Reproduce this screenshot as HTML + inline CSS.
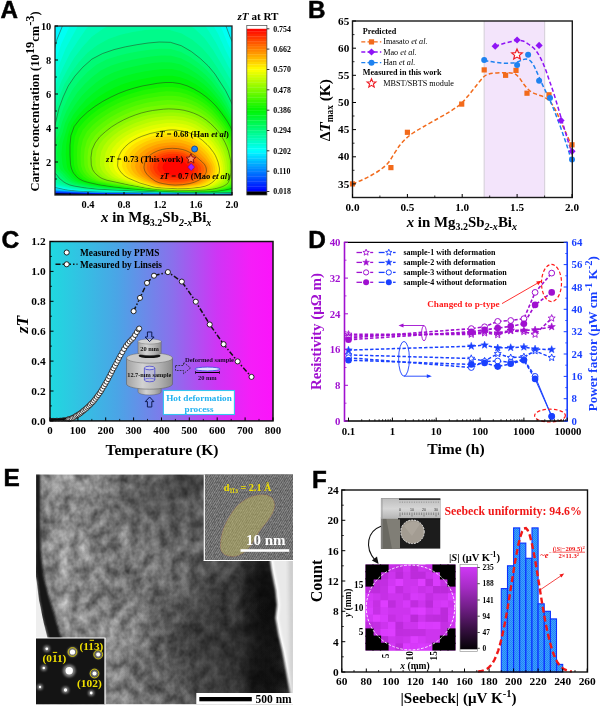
<!DOCTYPE html>
<html><head><meta charset="utf-8"><title>Figure</title>
<style>
html,body{margin:0;padding:0;background:#fff;}
body{width:600px;height:707px;overflow:hidden;font-family:"Liberation Serif",serif;}
svg{display:block;font-family:"Liberation Serif",serif;font-weight:bold;will-change:transform;}
</style></head><body>
<svg width="600" height="707" viewBox="0 0 600 707">
<rect width="600" height="707" fill="#fff"/>
<g id="pA">
<clipPath id="clA"><rect x="55" y="26" width="177" height="169"/></clipPath>
<g clip-path="url(#clA)">
<rect x="55" y="26" width="177" height="169" fill="#000"/>
<path d="M250 168L250 194.7L250 194.4L149.7 194.4L58.3 193.2L40 193.2L40 10L250 10Z" fill="#000bff"/>
<path d="M250 168L250 194.4L149.8 194.2L40 192.8L40 10L250 10Z" fill="#0020ff"/>
<path d="M250 168L250 194.3L250 194.1L150 194.1L40 192.4L40 10L250 10Z" fill="#0035ff"/>
<path d="M250 168L250 194.2L250 194L150.1 193.9L89.5 193.1L53 192.1L40 192L40 10L250 10Z" fill="#004aff"/>
<path d="M250 168L250 194L250 193.8L150.3 193.8L90.1 192.9L54.8 191.8L40 191.7L40 10L250 10Z" fill="#0060ff"/>
<path d="M250 168L250 193.9L250 193.7L150.4 193.6L90.7 192.7L56.5 191.4L40 191.3L40 10L250 10Z" fill="#0075ff"/>
<path d="M250 168L250 193.8L250 193.5L146.7 193.4L91.3 192.6L58.2 191.1L40 191L40 10L250 10Z" fill="#008aff"/>
<path d="M250 168L250 193.5L150.8 193.3L118.4 192.9L91.8 192.4L59.4 190.9L40 190.3L40 10L250 10Z" fill="#009fff"/>
<path d="M250 168L250 193.5L244 193.7L231.5 193.4L150.9 193.2L97.2 192.4L81.4 191.8L40.3 189.7L40 189.3L40 10L250 10Z" fill="#00b5ff"/>
<path d="M250 168L250 193.4L244.2 193.8L231.4 193.4L217.8 193.5L151.1 193.1L92.8 192.2L69 191L44.2 189L40 188.5L40 10L250 10Z" fill="#00caff"/>
<path d="M250 168L250 193.4L247.5 193.7L244.4 193.9L231.3 193.3L217.8 193.5L151.2 192.9L93.2 192L69.7 190.8L40 187.8L40 10L250 10Z" fill="#00dfff"/>
<path d="M250 168L250 193.4L247.6 193.7L244.7 194L231.2 193.3L217.7 193.5L177.9 193.1L93.7 191.9L82.8 191.5L70.5 190.6L64.1 190L51.3 187.9L40.8 187.1L40 185.4L40 17.3L44.6 10L230.6 10L239 14.4L247.2 30.3L250 43.7Z" fill="#00f4ff"/>
<path d="M250 168L250 193.3L244.9 194.1L231 193.2L217.7 193.4L176.1 192.9L107.2 192L83.3 191.4L71.3 190.5L65.2 189.7L54.6 187.4L45.2 186.5L41.9 184.6L40 182.4L40 111.5L40.4 98.4L44.1 84.9L52.6 56L57 39.4L63.7 22.9L70.2 10L213.2 10L222.9 17.8L230 36.9L236.7 50.7L243 62.4L247.9 74L250 85.5Z" fill="#00fff4" stroke="#2a3a20" stroke-width="0.6" stroke-opacity="0.85"/>
<path d="M250 168L250 191.9L249.2 192.9L244 193.7L230.8 193.1L217.5 193.3L176.1 192.8L108.3 191.7L85 190.9L73.4 190L67.5 189.3L57.2 187L48.7 186L45.5 184.1L43.3 182.1L41.8 179.8L40.4 177.5L40 175.2L40 125.3L40.3 112.8L43.5 100L47.2 86.9L51.5 73.4L61.3 44L68.4 29L75.6 11.9L86.4 10L211.1 10L220.5 25.8L227.5 43.1L234 56.1L240.1 67L244.8 78L248.2 88.9L250 99Z" fill="#00fedf"/>
<path d="M250 168L250 190.4L247.8 192.4L243.2 193.4L230.5 192.9L215.7 193.2L174.4 192.6L128.3 191.8L92 190.8L81.2 190.1L69.9 188.8L59.7 186.6L52.3 185.5L49.1 183.7L46.9 181.7L45.3 179.5L42.7 175L40.9 172.8L40 170.4L40 138.2L40.5 126.3L46.7 101.6L50.4 88.9L54.8 75.9L65.7 48.6L81 20.2L91.9 10L197 10L208.9 17.8L218 33.8L225 49.3L231.3 61.4L237.2 71.7L241.7 82.1L245.2 92.3L248 101.8L250 110.8Z" fill="#00fdca"/>
<path d="M250 168L250 189L246.4 191.9L242.3 193.1L239.6 193.3L230.2 192.8L210.2 193L176.1 192.5L139 191.7L93.4 190.4L83.1 189.7L72.2 188.4L62.3 186.2L55.8 185L52.8 183.3L50.5 181.3L48.8 179.2L46.1 174.9L41.8 170.4L40.5 168L40 165.6L40 138.7L43.8 127.3L49.8 103.2L53.6 90.9L58.2 78.5L63.8 66.1L70 53.2L77.8 41L86.4 28.5L97.4 18.3L110.3 10.9L124.6 10L182.5 10L195.6 16.6L206.8 28L215.6 41.9L222.5 55.5L228.6 66.7L234.2 76.4L238.7 86.2L242.1 95.7L245 104.6L249.3 121L250 128.6Z" fill="#00fcb5"/>
<path d="M250 168L250 186.3L249.6 187.4L248.7 188.6L245.1 191.4L241.5 192.8L239.2 193.1L229.9 192.7L202.7 192.8L160.8 192.1L103.9 190.3L90.1 189.7L79.9 188.6L69.6 186.9L59.3 184.5L56.4 182.8L54.2 180.9L52.3 178.9L49.5 174.7L44.4 170.3L43 168L41.4 163.3L40 151.1L41.9 139.3L47.1 128.3L52.9 104.8L56.8 92.9L61.5 81L67.5 69.4L74.3 57.8L82.5 47L91.8 36.8L103 28.7L115.4 22.9L128.7 19.4L142.2 17.2L155.7 16.5L169.1 17.5L182.1 21.3L194.2 28.2L204.6 38.2L213.1 49.9L231.3 81.1L235.6 90.2L242 107.4L246.6 122.8L248.5 130L250 136.9Z" fill="#00fb9f"/>
<path d="M250 168L250 183.6L249.8 184.8L247.3 188.1L243.7 191L240.6 192.4L238.8 193L232.2 192.6L199.2 192.7L160.9 191.9L131.9 191L101 189.8L91.8 189.2L82 188.2L72 186.5L62.8 184L60 182.4L55.8 178.6L52.9 174.5L47.1 170.3L45.5 168L43.8 163.3L41.7 151.4L44.5 139.8L50.4 129.3L56 106.4L60 94.9L64.8 83.5L71.2 72.8L78.6 62.5L87.2 53L97.2 45.2L108.5 39.1L120.5 34.8L132.8 32L145.2 30.1L157.5 29.3L169.8 29.9L181.7 33.5L192.7 39.9L202.4 48.3L210.7 57.9L217.5 67.9L228.4 85.7L232.5 94.3L239 110.2L243.8 124.6L247.7 138L249.2 144.5L250 151Z" fill="#00fa8a"/>
<path d="M250 168L250 179.6L248.3 184.5L245.8 187.7L244.6 188.7L242.3 190.5L238.4 192.8L231.9 192.4L202.5 192.6L174.5 192.1L140.1 191.1L97.9 189.2L84.2 187.7L74.4 186.1L69.9 185L66.4 183.5L63.7 181.9L59.3 178.3L56.3 174.3L49.7 170.2L48 168L46.2 163.4L44.1 151.7L47.2 140.4L53.7 130.3L59.1 107.9L63.2 96.9L68.2 86L74.9 76.1L82.9 67.1L91.9 59.1L102.6 53.5L114 49.6L125.5 46.8L136.9 44.7L148.1 43L159.3 42L170.4 42.3L181.3 45.7L191.3 51.5L200.3 58.5L208.2 65.9L215 74.1L225.5 90.4L229.5 98.4L236.1 112.9L243.2 132.8L246.9 145.3L248.3 151.5L249.3 157.8L250 164.2Z" fill="#00fa75" stroke="#2a3a20" stroke-width="0.6" stroke-opacity="0.85"/>
<path d="M248.7 168L248.8 174.3L248.3 179.3L246.6 184.1L244.2 187.3L243.1 188.2L240.8 190L236.9 192.2L230.9 192L208.4 192.5L174.5 192L140.5 190.8L99.7 188.7L86.5 187.2L77.1 185.6L72.8 184.5L69.3 183.1L66.5 181.6L62.2 178L59.2 174.2L53.4 170.2L51.9 168L50.3 163.6L48.4 152.2L51 141.2L56.6 131.2L59.3 120.4L62.7 109.7L67.2 99.4L72.6 89.4L79.6 80.3L87.6 72.1L96.4 64.8L106.6 59.6L117.4 56L128.3 53.3L139.1 51.3L149.7 49.7L160.2 48.8L170.8 49L181.1 52L190.6 57.2L199.2 63.6L206.9 70.3L213.4 77.8L223.9 93L227.9 100.5L234.6 114.3L241.9 133.5L245.5 145.7L246.9 151.9L247.9 158Z" fill="#00f960"/>
<path d="M247.2 168L247.1 174.1L246.5 179L244.9 183.7L242.6 186.8L241.6 187.8L239.3 189.5L235.3 191.6L229.9 191.6L209.3 192.3L176.2 192L140.8 190.6L101.5 188.2L88.9 186.7L79.9 185.1L75.7 184L72.2 182.7L69.4 181.2L67.1 179.6L65.1 177.8L62.1 174L57.1 170.1L55.8 168L54.3 163.7L52.7 152.7L54.8 142L59.4 132.1L62.3 121.6L66.2 111.5L71.3 101.9L77.1 92.7L84.3 84.5L92.2 77.1L100.8 70.5L110.6 65.8L120.8 62.4L131.1 59.9L141.2 57.9L151.2 56.4L161.2 55.5L171.1 55.7L180.8 58.3L189.9 63L198.1 68.6L205.5 74.7L211.9 81.6L222.3 95.6L226.3 102.6L233.1 115.7L235.8 122L240.5 134.2L242.5 140.2L244.1 146.2L245.5 152.2L246.4 158.2Z" fill="#00f84a"/>
<path d="M245.6 168L245.4 174L244.7 178.7L243.2 183.3L241 186.4L240.1 187.3L237.9 189L233.8 190.9L209.1 192.2L176.2 191.9L141.2 190.4L107 188.1L95.4 186.8L82.7 184.6L78.6 183.6L75.1 182.3L72.3 180.9L70 179.3L68 177.5L65 173.9L60.8 170L59.6 168L58.4 163.9L57 153.3L58.6 142.8L62.3 132.9L65.2 122.8L69.7 113.3L75.3 104.5L81.6 96.1L88.9 88.7L96.9 82.1L105.3 76.3L114.6 72L124.2 68.8L133.9 66.4L143.4 64.6L152.8 63.1L162.1 62.3L171.5 62.4L180.6 64.6L189.2 68.7L197 73.7L204.2 79.2L210.4 85.4L220.6 98.2L224.7 104.7L231.6 117.1L234.4 123.1L239.2 134.9L241.2 140.8L242.8 146.6L244.1 152.5L245 158.4Z" fill="#00f735"/>
<path d="M244 168L243.5 175L242.9 178.4L241.4 182.9L240.2 184.9L238.6 186.8L236.4 188.4L232.2 190.3L219.3 191.5L211.2 192L195.8 192.1L176.2 191.9L161.3 191.3L134.4 189.7L111.8 187.9L101.4 186.9L89.6 185L81.5 183.1L78 181.9L75.1 180.5L72.8 179L70.9 177.3L64.5 170L63.5 168L62.9 166L62.4 164L61.4 153.8L62.4 143.6L68.2 124.1L73.2 115.1L79.4 107L86.1 99.5L93.6 92.9L101.5 87.1L109.8 82L118.6 78.1L127.6 75.2L136.6 72.9L145.6 71.2L154.3 69.9L163.1 69L171.8 69.1L180.4 71L188.5 74.4L196 78.7L202.8 83.6L208.9 89.1L214.2 95L219 100.7L223.1 106.8L230.1 118.4L233 124.2L237.8 135.6L239.8 141.3L241.4 147.1L242.6 152.8L243.5 158.7L244 164.5Z" fill="#00f620"/>
<path d="M242.4 168L241.9 173.7L241.1 178.2L239.7 182.5L238.6 184.5L237 186.4L234.9 187.9L232.2 189.2L228.9 190L218.9 191.2L208.7 191.9L188.7 192L172.8 191.7L159 191.1L131.5 189.2L116 187.8L103.4 186.4L96 185.2L88.2 183.7L80.9 181.5L78 180.2L75.7 178.7L73.8 177L72.2 175.3L68.2 169.9L67.4 168L66.5 164.1L65.7 154.3L66.2 144.4L68 134.7L71.2 125.3L76.8 116.9L83.4 109.5L90.6 102.9L98.2 97.1L106.2 92.1L114.3 87.7L122.6 84.3L131.1 81.6L139.4 79.5L155.9 76.6L164 75.8L172.2 75.8L180.2 77.3L187.8 80.1L194.9 83.8L201.4 88.1L207.4 92.9L212.6 98.1L217.4 103.3L221.5 108.9L228.7 119.8L231.6 125.3L236.5 136.4L238.5 141.9L240.1 147.5L241.2 153.2L242.1 158.9L242.5 164.6Z" fill="#00f50b"/>
<path d="M240.9 168L240.1 174.6L239 178.9L238 182.1L236.9 184.1L235.5 185.9L233.4 187.4L230.7 188.6L227.7 189.5L218.4 190.9L210.7 191.6L195.6 191.8L179.5 191.8L165.6 191.3L126.4 188.4L111.6 186.7L98.4 184.7L87.3 182.2L83.8 181.1L80.9 179.8L78.5 178.4L76.7 176.8L73.8 173.4L72.7 171.6L71.3 168L70.5 164.3L70 154.9L70 145.3L70.9 135.6L74.2 126.5L80.3 118.7L87.5 112L95.1 106.3L102.9 101.3L110.9 97.1L118.8 93.4L126.6 90.4L134.5 88L142.2 86L157.4 83.3L165 82.5L172.5 82.5L179.9 83.6L187.1 85.8L193.8 88.9L200.1 92.5L205.8 96.6L211.1 101.1L215.8 105.9L220 111L223.7 116.1L227.2 121.2L230.2 126.4L235.2 137.1L237.2 142.5L238.7 147.9L239.8 153.5L240.6 159.1L241 164.6Z" fill="#0bf500" stroke="#2a3a20" stroke-width="0.6" stroke-opacity="0.85"/>
<path d="M239.2 168L238.5 174.5L237.6 178.7L236 182.7L234.2 185.5L232.1 187L229.5 188.2L226.6 189.1L222.1 190L216.4 190.7L208.1 191.4L190.6 191.6L176.2 191.5L161.6 190.9L142.7 189.4L127.5 188L113.4 186.2L100.8 184.2L90.1 181.8L86.9 180.7L84.1 179.4L81.8 178L80.1 176.5L77.2 173.2L76.2 171.5L74.8 168L74 164.4L73.5 155.3L73.7 146L74.9 136.8L78.5 128.2L84.5 120.9L91.5 114.5L98.8 109.1L106.3 104.4L114 100.4L121.5 97L129.1 94.2L136.6 91.9L143.9 90.1L158.4 87.6L165.6 86.9L172.8 86.9L179.8 87.9L186.6 89.9L193 92.6L199 96L204.6 99.7L209.7 103.9L214.3 108.3L218.4 113.1L222.1 117.9L225.5 122.7L228.5 127.7L233.5 138L235.5 143.2L237 148.5L238.1 153.9L239 159.3L239.3 164.7Z" fill="#20f600"/>
<path d="M237.6 168L237.1 173.3L236.3 177.4L235.1 181.4L233.6 184.2L232.8 185.1L230.9 186.6L228.4 187.7L225.6 188.6L221.3 189.6L213.3 190.7L206.6 191.1L190.5 191.4L176.2 191.3L165.8 190.9L154.1 190.1L126.7 187.3L109.6 184.8L96.3 182.2L89.9 180.2L87.3 179L85.2 177.7L83.4 176.2L80.7 173L78.8 169.7L77.8 166.3L77.4 164.5L77 155.7L77.3 146.8L79 138L82.7 129.9L88.7 123L95.4 117L102.5 111.9L109.8 107.5L117.1 103.8L124.3 100.6L131.5 98L138.6 95.9L145.7 94.2L159.4 91.9L166.2 91.3L173 91.4L179.6 92.3L186.1 94L192.2 96.4L198 99.4L203.3 102.8L208.3 106.6L212.8 110.7L216.8 115.2L223.9 124.3L226.9 129L231.8 138.9L233.8 143.9L235.3 149.1L236.4 154.3L237.3 159.5L237.7 164.8Z" fill="#35f700"/>
<path d="M235.9 168L235.5 173.1L234.8 177.2L233.6 181.1L232.2 183.8L231.5 184.7L229.7 186.1L227.3 187.3L224.6 188.2L220.5 189.2L212.8 190.3L206.2 190.8L190.4 191.2L177.8 191.1L157.1 190.1L144.7 189L133.1 187.6L114.4 184.8L99 181.7L93 179.8L90.5 178.6L88.5 177.3L86.8 175.9L84.1 172.9L82.3 169.7L81.2 166.3L80.9 164.6L80.5 156.2L81 147.6L83 139.3L87 131.6L92.9 125.1L99.4 119.5L106.3 114.7L113.2 110.6L120.2 107.1L127.1 104.2L134 101.7L140.7 99.8L147.4 98.2L160.4 96.2L166.8 95.7L173.2 95.8L179.5 96.6L185.6 98.1L191.4 100.2L196.9 102.8L202.1 105.9L206.9 109.4L211.3 113.2L215.2 117.2L218.9 121.5L222.2 125.8L225.2 130.3L230.1 139.8L232 144.6L233.6 149.6L234.8 154.7L235.6 159.8L236 164.9Z" fill="#4af800"/>
<path d="M234.3 168L234 173L233.4 176.9L232.2 180.7L230.8 183.4L229.4 185L226.2 186.9L223.6 187.8L219.7 188.8L213.4 189.9L206.8 190.5L194.9 190.9L182.7 190.9L169.6 190.6L159.7 190.1L149.8 189.2L140.7 188.1L121.1 185.1L104.9 182L98.7 180.4L96 179.4L91.8 177L88.8 174.2L86.5 171.2L85.7 169.6L84.7 166.4L84.3 164.8L84 156.6L84.7 148.4L87 140.5L91.2 133.3L97.1 127.3L103.4 122L110 117.5L116.7 113.7L123.4 110.5L129.9 107.7L136.4 105.5L142.8 103.7L149.1 102.3L161.4 100.5L167.5 100.1L173.4 100.2L179.3 100.9L185.1 102.2L190.6 104L195.9 106.3L200.8 109L205.5 112.1L209.8 115.6L213.7 119.3L217.3 123.3L220.6 127.4L223.5 131.7L228.4 140.7L230.3 145.4L231.9 150.2L233.1 155.1L233.9 160L234.3 165Z" fill="#60f900"/>
<path d="M232.7 168L232.4 172.8L231.9 176.7L230.8 180.4L230 182.2L228.8 183.8L227.2 185.3L225 186.4L221.4 187.8L216.4 188.9L210.6 189.8L197.3 190.6L177.8 190.7L168 190.4L157.4 189.7L145.6 188.4L124.8 185L107.5 181.5L101.6 179.9L99.1 179L96.9 177.8L93.6 175.3L91 172.5L90 171L88.6 168L87.8 164.9L87.5 157L88.4 149.2L91.1 141.7L95.5 135.1L101.3 129.4L107.4 124.5L113.7 120.3L120.1 116.8L126.5 113.8L132.7 111.3L138.8 109.2L144.9 107.6L150.9 106.4L162.4 104.9L168.1 104.5L173.7 104.7L179.2 105.2L184.6 106.2L189.8 107.8L194.8 109.7L199.6 112.1L204.1 114.9L208.2 118L212.1 121.4L215.6 125.1L218.9 128.9L221.8 133L224.4 137.2L226.7 141.6L228.6 146.1L230.2 150.7L231.4 155.5L232.2 160.2L232.7 165.1Z" fill="#75fa00"/>
<path d="M231 168L230.9 172.7L230.4 176.5L229.3 180.1L228.1 182.7L226.8 184.2L224.9 185.4L222.8 186.5L219.3 187.7L214.5 188.8L209 189.6L204.2 190L194.5 190.4L174.6 190.4L157.6 189.5L146 188.1L128.1 184.8L107.1 180.3L102.1 178.5L100.1 177.4L97 175L94.4 172.3L92.6 169.5L91.3 165L91 157.4L92 149.9L95.1 143L99.7 136.8L105.5 131.6L111.4 127L117.5 123.2L123.6 119.9L129.6 117.2L135.5 114.9L141.3 113L147 111.6L152.6 110.5L163.4 109.2L168.7 108.9L173.9 109.1L179 109.5L184.1 110.3L189 111.6L193.8 113.2L198.3 115.2L202.7 117.6L206.7 120.4L210.5 123.5L214 126.9L217.3 130.5L220.2 134.3L222.7 138.3L225 142.5L226.9 146.8L228.5 151.3L230.6 160.5L231 165.2Z" fill="#8afa00" stroke="#2a3a20" stroke-width="0.6" stroke-opacity="0.85"/>
<path d="M229.1 168L228.9 172.5L228.4 176.1L227.3 179.6L226.1 182.1L224.8 183.5L222.1 185.3L216.7 187.4L211.3 188.6L206.3 189.3L194.2 190L177.8 190.2L157.9 189.2L146.6 187.7L131.2 184.7L112.9 180.5L107.9 178.9L105.8 178L104 177L101.1 174.6L98.7 172.1L97 169.4L95.6 165.2L95.5 158L96.5 150.9L99.5 144.3L103.9 138.5L109.4 133.6L115 129.3L120.8 125.7L126.6 122.6L132.3 120.1L143.4 116.3L148.8 114.9L154 113.9L164.2 112.7L169.2 112.4L174.1 112.6L178.9 113L183.7 113.7L188.3 114.9L192.8 116.4L197.1 118.2L201.2 120.5L205.1 123.1L208.7 125.9L212.1 129.1L215.2 132.4L218 136L220.5 139.8L224.7 147.8L226.3 152L227.5 156.3L228.5 160.8L229 165.3Z" fill="#9ffb00"/>
<path d="M227.2 168L227 172.4L226.6 175L225.6 178.3L224.5 180.7L222.8 182.9L221.2 184.1L218.4 185.6L215.4 186.7L210.3 188L205.7 188.8L193.9 189.6L177.8 189.9L160.5 189.1L151.3 188.1L135.3 184.9L115.8 179.9L111.3 178.4L109.4 177.5L107.8 176.5L105.2 174.3L103 171.9L101.3 169.3L100 165.3L100 158.5L101.1 151.9L103.9 145.7L108.1 140.2L113.3 135.5L118.6 131.5L124.1 128.2L129.7 125.4L135.1 123L145.5 119.5L150.6 118.3L155.5 117.3L165 116.2L169.7 115.9L174.3 116.1L178.8 116.4L183.2 117.1L187.6 118.2L191.8 119.5L195.9 121.3L199.7 123.4L203.4 125.7L206.9 128.4L210.1 131.3L213.1 134.4L215.8 137.7L218.3 141.2L222.5 148.7L224.1 152.7L225.4 156.8L226.4 161.1Z" fill="#b5fc00"/>
<path d="M225.2 168L225.1 172.2L224.5 175.5L223.3 178.7L222 180.9L220.8 182.2L218.5 183.9L215.8 185.3L212.1 186.7L207.6 187.9L203.3 188.5L189.4 189.5L177.8 189.6L160.7 188.8L151.7 187.8L136.4 184.4L118.7 179.3L114.8 177.9L113.1 177L111.6 176L109.2 173.9L107.2 171.7L105.7 169.2L104.4 165.5L104.5 159.1L105.6 152.8L108.3 147L112.3 141.9L117.1 137.5L122.2 133.8L127.5 130.7L132.7 128.1L137.8 126L147.6 122.8L152.3 121.6L157 120.8L165.8 119.6L170.2 119.4L174.5 119.5L182.8 120.5L186.9 121.5L190.8 122.7L194.7 124.3L198.3 126.2L201.8 128.4L205 130.8L208.1 133.5L213.6 139.4L218.3 146.1L220.3 149.6L221.9 153.4L223.3 157.3L224.3 161.4Z" fill="#cafd00"/>
<path d="M223.3 168L223.2 172L222.7 174.4L221.3 178.2L219.9 180.3L218.1 182.1L215.9 183.7L212.6 185.4L209.2 186.6L206.7 187.3L201.9 188.2L187.4 189.2L177.7 189.3L161 188.5L152.8 187.6L139.9 184.5L123.4 179.4L118.2 177.3L115.5 175.6L113.3 173.6L111.5 171.4L110.1 169.2L108.8 165.6L108.9 159.6L110.1 153.8L112.7 148.3L116.5 143.6L121 139.5L125.8 136L130.8 133.2L135.7 130.8L140.5 128.9L149.7 126L154.1 125L158.4 124.2L166.6 123.1L170.7 122.9L174.6 123L182.4 124L186.2 124.8L189.9 125.9L193.4 127.4L200.1 131L203.2 133.2L206.1 135.7L211.4 141.1L213.8 144.1L218.1 150.6L219.8 154.1L221.1 157.8L222.2 161.6Z" fill="#dffe00"/>
<path d="M221.3 168L221.4 170.3L221 173.4L220 176.4L218.4 179.1L216.1 181.5L213.5 183.5L211.3 184.7L207.4 186.3L203.6 187.3L200.6 187.8L185.5 189L177.7 189L161.2 188.2L153.2 187.2L140.9 184.1L126 178.8L121.7 176.8L119.3 175.1L117.4 173.2L115.7 171.2L114.4 169.1L113.2 165.8L113.4 160.2L114.6 154.7L117.1 149.7L120.7 145.2L124.9 141.5L129.5 138.3L134.1 135.7L138.7 133.6L143.3 131.8L147.6 130.4L155.9 128.4L167.4 126.6L174.8 126.5L182 127.4L185.5 128.1L192.2 130.4L198.5 133.7L204.1 137.9L209.2 142.8L211.6 145.5L215.8 151.5L217.6 154.8L219 158.3L220.1 161.9Z" fill="#f4ff00"/>
<path d="M219.4 168L219.5 170.2L219.1 173.2L217.3 177.3L215.8 179.1L213 181.8L211.2 183.2L208.6 184.8L205.1 186.2L200 187.3L187 188.6L177.7 188.8L161.4 187.9L156.8 187.5L153 186.8L139.9 183L128.6 178.3L125.1 176.2L122.3 173.8L120 171L118.3 168L117.6 165.9L117.9 160.7L119.1 155.7L121.5 151L124.9 146.9L128.8 143.4L133.1 140.5L137.4 138.2L141.8 136.3L150.1 133.5L161.3 131.1L168.3 130.1L171.6 129.9L175 130L181.6 130.8L187.9 132.3L193.9 134.8L196.8 136.3L202.2 140.1L207 144.5L209.4 147L213.6 152.5L215.4 155.5L216.8 158.8L218.1 162.2Z" fill="#fff400" stroke="#2a3a20" stroke-width="0.6" stroke-opacity="0.85"/>
<path d="M217.2 168L217.3 170.1L217.1 172.2L216.5 174.3L215.3 176.8L213.9 178.6L211.2 181.1L209.5 182.5L207 184L203.7 185.4L201.7 186L196.6 186.9L186.7 187.9L177.7 188.1L165.7 187.5L157.5 186.8L152.6 185.7L141.8 182.2L131.6 177.6L128.6 175.7L126.1 173.4L124 170.8L122.6 168L122 166.1L122.3 161.3L123.5 156.6L125.7 152.3L128.8 148.5L132.4 145.3L136.4 142.6L140.4 140.4L144.5 138.7L152.1 136.2L162.5 134L169 133.2L172.1 133L175.2 133.1L181.2 133.8L187 135.2L192.6 137.4L195.3 138.8L200.2 142.2L207 148.5L211.1 153.5L212.9 156.3L215.8 162.5Z" fill="#ffdf00"/>
<path d="M215 168L215.2 170L215 172L214.4 173.9L213.2 176.4L211.9 178L209.5 180.5L205.5 183.1L201.2 184.9L195.7 186.1L186.4 187.2L177.7 187.5L167.7 187L158.3 186.1L153 184.8L143.7 181.5L134.7 177L132 175.1L129.9 173L128.1 170.6L126.9 168L126.4 166.2L126.7 161.8L127.9 157.6L129.9 153.6L132.7 150.1L136.1 147.1L139.7 144.7L143.4 142.7L147.1 141.1L154.2 138.8L163.8 136.9L172.5 136.1L175.3 136.1L180.8 136.8L186.2 138L191.3 140L193.7 141.3L198.3 144.3L204.7 150L208.6 154.6L212 159.9L213.5 162.9L214.6 166Z" fill="#ffca00"/>
<path d="M212.8 168L213 169.9L212.8 171.8L212.3 173.6L211.2 175.9L210 177.5L207.7 179.8L206.2 181L203.4 182.6L199.4 184.2L192.9 185.6L183.1 186.7L175 186.9L168 186.4L159 185.4L154 184.1L146.3 181L137.8 176.3L135.5 174.6L133.7 172.6L132.2 170.3L131.1 168L130.8 166.4L131.1 162.4L132.2 158.5L134.1 154.9L136.7 151.7L139.7 149L143 146.8L146.4 145L149.8 143.5L156.3 141.5L165 139.8L172.9 139.1L180.5 139.8L185.3 140.9L189.9 142.6L194.3 145L196.4 146.5L202.4 151.5L206.2 155.6L209.6 160.5L211.2 163.2L212.4 166.1Z" fill="#ffb500"/>
<path d="M210.6 168L210.8 169.8L210.7 171.5L210.2 173.3L209.1 175.4L207.6 177.4L205.9 179.1L201.9 181.8L199.8 182.8L196.6 183.9L190.4 185.1L182.9 186.1L175.1 186.3L168.3 185.8L159.7 184.7L155 183.4L148.7 180.6L141.6 176.2L139 174L137.5 172.2L136.2 170.1L135.4 168L135.2 166.5L135.6 162.9L136.6 159.4L138.3 156.2L140.6 153.3L143.4 150.9L146.4 148.8L152.5 145.9L158.3 144.1L166.2 142.7L173.4 142.2L180.1 142.8L184.4 143.8L188.6 145.2L194.5 148.6L200.1 153L205.4 158.8L208.9 163.5L210.2 166.3Z" fill="#ff9f00"/>
<path d="M208.4 168L208.6 171.3L208.2 172.9L207.1 175L205.7 176.8L204.1 178.4L200.4 181L195.1 183.2L189.8 184.4L182.7 185.4L175.1 185.7L168.6 185.2L160.5 184L156 182.7L152 180.7L147.7 178.1L145 176L142.9 174L140.6 170.5L139.7 168L139.6 166.7L140 163.5L140.9 160.3L142.5 157.4L144.6 154.9L147 152.7L149.7 150.9L155.2 148.3L160.4 146.7L167.5 145.6L173.8 145.2L179.7 145.8L183.5 146.6L187.3 147.9L192.6 150.7L197.7 154.5L204.8 161.6L206.7 163.8L207.9 166.4Z" fill="#ff8a00"/>
<path d="M206.2 168L206.5 171.1L206.1 172.6L205.4 174L203.1 177L201.1 178.7L198.9 180.2L194.1 182.3L189.2 183.7L182.4 184.7L175.2 185.1L168.9 184.6L162.9 183.6L158.9 182.7L155.2 181.1L150.3 177.7L147 174.4L145.3 171.9L144.6 170.3L144 168L144 166.8L144.4 164L145.3 161.3L146.7 158.7L148.5 156.5L150.7 154.6L153 153L157.8 150.7L162.4 149.4L166.7 148.6L172.4 148.3L177.7 148.6L182.7 149.5L185.9 150.5L190.6 152.8L195.4 156L202.4 162.1L204.4 164.2L205.7 166.5Z" fill="#ff7500" stroke="#2a3a20" stroke-width="0.6" stroke-opacity="0.85"/>
<path d="M203.8 168L204 170.8L203 173.5L200.9 176.2L199.1 177.8L197.1 179.1L192.7 181.1L188.2 182.3L182 183.3L175.4 183.6L169.6 183.2L164.1 182.3L160.4 181.4L157 180L152.5 176.9L149.5 173.8L147.3 170.1L146.8 168L146.8 166.9L147.2 164.3L148 161.8L149.2 159.5L150.9 157.5L152.9 155.7L155 154.3L159.4 152.2L163.7 150.9L167.6 150.3L172.8 149.9L177.6 150.2L182.2 151.1L185.2 152L189.5 154.1L193.9 157L200.3 162.6L202.1 164.5L203.3 166.6Z" fill="#ff5f00"/>
<path d="M201 168L201.2 170.5L200.3 173L198.5 175.4L195 178L191.1 179.8L187.1 180.9L181.5 181.8L175.5 182L170.3 181.7L165.4 180.8L162.1 180.1L159.1 178.8L155 176L152.3 173.3L150.3 169.9L149.9 168L149.8 167.1L150.2 164.7L150.9 162.5L152.1 160.4L153.6 158.5L155.3 157L157.3 155.7L161.2 153.8L165 152.7L168.5 152.1L173.3 151.8L177.6 152L181.7 152.8L184.3 153.6L188.2 155.5L192.2 158.2L197.9 163.2L199.5 164.8L200.6 166.8Z" fill="#ff4900"/>
<path d="M198 168L198.2 170.2L197.4 172.3L195.8 174.5L192.7 176.7L189.3 178.3L185.8 179.2L180.9 180L175.7 180.2L171.2 179.9L166.9 179.2L164 178.5L161.4 177.4L157.8 175L155.4 172.6L153.7 169.6L153.3 167.2L153.6 165.1L154.3 163.2L155.2 161.3L156.5 159.7L159.8 157.2L163.2 155.6L166.6 154.6L169.6 154.1L173.7 153.8L177.5 154.1L181.1 154.7L183.4 155.4L186.8 157.1L190.2 159.4L195.2 163.8L196.6 165.2L197.6 166.9Z" fill="#ff3200"/>
<path d="M194.4 168L194.5 169.8L193.9 171.6L192.5 173.3L190 175.2L187.2 176.5L184.3 177.3L180.2 178L175.9 178.1L172.2 177.9L168.6 177.3L166.2 176.7L164 175.8L161.1 173.8L159.1 171.8L157.7 169.3L157.4 167.3L158.2 164L159 162.5L160.1 161.2L162.7 159.1L165.6 157.7L168.3 156.9L170.9 156.5L174.3 156.3L177.4 156.5L180.4 157L182.3 157.6L185.1 159L187.9 160.9L192.1 164.5L193.3 165.7Z" fill="#ff1c00"/>
<path d="M189.8 168L189.9 169.4L189.4 170.6L188.4 171.9L186.6 173.3L184.5 174.3L182.4 174.9L179.4 175.3L176.2 175.5L170.8 174.8L169.1 174.4L167.5 173.7L165.3 172.3L163.9 170.8L162.8 169L162.5 167.5L163.1 165.1L163.7 163.9L164.5 163L166.5 161.4L168.6 160.4L170.6 159.8L175 159.4L179.5 159.9L180.9 160.3L183 161.4L185.1 162.8L188.1 165.4L189 166.3Z" fill="#ff0600"/>
</g>
<rect x="55" y="26" width="177" height="169" fill="none" stroke="#222" stroke-width="1.3"/>
<line x1="88" y1="195" x2="88" y2="192" stroke="#000" stroke-width="1"/>
<text x="88" y="207.8" font-size="10.4" text-anchor="middle">0.4</text>
<line x1="124" y1="195" x2="124" y2="192" stroke="#000" stroke-width="1"/>
<text x="124" y="207.8" font-size="10.4" text-anchor="middle">0.8</text>
<line x1="160" y1="195" x2="160" y2="192" stroke="#000" stroke-width="1"/>
<text x="160" y="207.8" font-size="10.4" text-anchor="middle">1.2</text>
<line x1="196" y1="195" x2="196" y2="192" stroke="#000" stroke-width="1"/>
<text x="196" y="207.8" font-size="10.4" text-anchor="middle">1.6</text>
<line x1="232" y1="195" x2="232" y2="192" stroke="#000" stroke-width="1"/>
<text x="232" y="207.8" font-size="10.4" text-anchor="middle">2.0</text>
<line x1="70" y1="195" x2="70" y2="193" stroke="#000" stroke-width="0.8"/>
<line x1="106" y1="195" x2="106" y2="193" stroke="#000" stroke-width="0.8"/>
<line x1="142" y1="195" x2="142" y2="193" stroke="#000" stroke-width="0.8"/>
<line x1="178" y1="195" x2="178" y2="193" stroke="#000" stroke-width="0.8"/>
<line x1="214" y1="195" x2="214" y2="193" stroke="#000" stroke-width="0.8"/>
<line x1="55" y1="162" x2="58" y2="162" stroke="#000" stroke-width="1"/>
<text x="51.3" y="165.5" font-size="10.4" text-anchor="end">2</text>
<line x1="55" y1="128" x2="58" y2="128" stroke="#000" stroke-width="1"/>
<text x="51.3" y="131.5" font-size="10.4" text-anchor="end">4</text>
<line x1="55" y1="94" x2="58" y2="94" stroke="#000" stroke-width="1"/>
<text x="51.3" y="97.5" font-size="10.4" text-anchor="end">6</text>
<line x1="55" y1="60" x2="58" y2="60" stroke="#000" stroke-width="1"/>
<text x="51.3" y="63.5" font-size="10.4" text-anchor="end">8</text>
<line x1="55" y1="26" x2="58" y2="26" stroke="#000" stroke-width="1"/>
<text x="51.3" y="29.5" font-size="10.4" text-anchor="end">10</text>
<line x1="55" y1="179" x2="57" y2="179" stroke="#000" stroke-width="0.8"/>
<line x1="55" y1="145" x2="57" y2="145" stroke="#000" stroke-width="0.8"/>
<line x1="55" y1="111" x2="57" y2="111" stroke="#000" stroke-width="0.8"/>
<line x1="55" y1="77" x2="57" y2="77" stroke="#000" stroke-width="0.8"/>
<line x1="55" y1="43" x2="57" y2="43" stroke="#000" stroke-width="0.8"/>
<text x="39.4" y="191.5" font-size="12.5" transform="rotate(-90 39.4 191.5)">Carrier concentration (10<tspan dy="-5.7">19</tspan><tspan dy="5.7">cm</tspan><tspan dy="-5.7">-3</tspan><tspan dy="5.7">)</tspan></text>
<text x="156.2" y="222" font-size="14.9" text-anchor="middle"><tspan font-style="italic">x</tspan> in Mg<tspan font-size="10" dy="3.5">3.2</tspan><tspan dy="-3.5">Sb</tspan><tspan font-size="10" dy="3.5" font-style="italic">2-x</tspan><tspan dy="-3.5">Bi</tspan><tspan font-size="10" dy="3.5" font-style="italic">x</tspan></text>
<text x="156" y="137.2" font-size="8.5"><tspan font-style="italic">zT</tspan> = 0.68 (Han <tspan font-style="italic">et al</tspan>)</text>
<text x="106" y="162" font-size="8.5"><tspan font-style="italic">zT</tspan> = 0.73 (This work)</text>
<text x="160.5" y="178.5" font-size="8.5"><tspan font-style="italic">zT</tspan> = 0.7 (Mao <tspan font-style="italic">et al</tspan>)</text>
<circle cx="194.6" cy="149" r="3" fill="#1e86f0" stroke="#0a3c90" stroke-width="0.8"/>
<path d="M190.9 153.7L192.3 157L195.8 157.3L193.1 159.6L194 163.1L190.9 161.2L187.8 163.1L188.7 159.6L186 157.3L189.5 157Z" fill="#ff8e62" stroke="#8a1010" stroke-width="1"/>
<path d="M191.2 163.5L194.6 167.1L191.2 170.7L187.8 167.1Z" fill="#9a20ff" stroke="#5a00a0" stroke-width="0.5"/>
<rect x="246.8" y="25.6" width="20.1" height="169.4" fill="#fff"/>
<rect x="246.8" y="28.80" width="20.1" height="2.84" fill="#ff0800"/>
<rect x="246.8" y="31.34" width="20.1" height="2.84" fill="#ff1800"/>
<rect x="246.8" y="33.88" width="20.1" height="2.84" fill="#ff2800"/>
<rect x="246.8" y="36.43" width="20.1" height="2.84" fill="#ff3800"/>
<rect x="246.8" y="38.97" width="20.1" height="2.84" fill="#ff4800"/>
<rect x="246.8" y="41.51" width="20.1" height="2.84" fill="#ff5800"/>
<rect x="246.8" y="44.05" width="20.1" height="2.84" fill="#ff6800"/>
<rect x="246.8" y="46.60" width="20.1" height="2.84" fill="#ff7800"/>
<rect x="246.8" y="49.14" width="20.1" height="2.84" fill="#ff8700"/>
<rect x="246.8" y="51.68" width="20.1" height="2.84" fill="#ff9700"/>
<rect x="246.8" y="54.22" width="20.1" height="2.84" fill="#ffa700"/>
<rect x="246.8" y="56.76" width="20.1" height="2.84" fill="#ffb700"/>
<rect x="246.8" y="59.31" width="20.1" height="2.84" fill="#ffc700"/>
<rect x="246.8" y="61.85" width="20.1" height="2.84" fill="#ffd700"/>
<rect x="246.8" y="64.39" width="20.1" height="2.84" fill="#ffe700"/>
<rect x="246.8" y="66.93" width="20.1" height="2.84" fill="#fff700"/>
<rect x="246.8" y="69.47" width="20.1" height="2.84" fill="#f7ff00"/>
<rect x="246.8" y="72.02" width="20.1" height="2.84" fill="#e7fe00"/>
<rect x="246.8" y="74.56" width="20.1" height="2.84" fill="#d7fd00"/>
<rect x="246.8" y="77.10" width="20.1" height="2.84" fill="#c7fd00"/>
<rect x="246.8" y="79.64" width="20.1" height="2.84" fill="#b7fc00"/>
<rect x="246.8" y="82.19" width="20.1" height="2.84" fill="#a7fc00"/>
<rect x="246.8" y="84.73" width="20.1" height="2.84" fill="#97fb00"/>
<rect x="246.8" y="87.27" width="20.1" height="2.84" fill="#87fa00"/>
<rect x="246.8" y="89.81" width="20.1" height="2.84" fill="#78fa00"/>
<rect x="246.8" y="92.35" width="20.1" height="2.84" fill="#68f900"/>
<rect x="246.8" y="94.90" width="20.1" height="2.84" fill="#58f800"/>
<rect x="246.8" y="97.44" width="20.1" height="2.84" fill="#48f800"/>
<rect x="246.8" y="99.98" width="20.1" height="2.84" fill="#38f700"/>
<rect x="246.8" y="102.52" width="20.1" height="2.84" fill="#28f700"/>
<rect x="246.8" y="105.07" width="20.1" height="2.84" fill="#18f600"/>
<rect x="246.8" y="107.61" width="20.1" height="2.84" fill="#08f500"/>
<rect x="246.8" y="110.15" width="20.1" height="2.84" fill="#00f508"/>
<rect x="246.8" y="112.69" width="20.1" height="2.84" fill="#00f618"/>
<rect x="246.8" y="115.23" width="20.1" height="2.84" fill="#00f728"/>
<rect x="246.8" y="117.78" width="20.1" height="2.84" fill="#00f738"/>
<rect x="246.8" y="120.32" width="20.1" height="2.84" fill="#00f848"/>
<rect x="246.8" y="122.86" width="20.1" height="2.84" fill="#00f858"/>
<rect x="246.8" y="125.40" width="20.1" height="2.84" fill="#00f968"/>
<rect x="246.8" y="127.95" width="20.1" height="2.84" fill="#00fa78"/>
<rect x="246.8" y="130.49" width="20.1" height="2.84" fill="#00fa87"/>
<rect x="246.8" y="133.03" width="20.1" height="2.84" fill="#00fb97"/>
<rect x="246.8" y="135.57" width="20.1" height="2.84" fill="#00fca7"/>
<rect x="246.8" y="138.11" width="20.1" height="2.84" fill="#00fcb7"/>
<rect x="246.8" y="140.66" width="20.1" height="2.84" fill="#00fdc7"/>
<rect x="246.8" y="143.20" width="20.1" height="2.84" fill="#00fdd7"/>
<rect x="246.8" y="145.74" width="20.1" height="2.84" fill="#00fee7"/>
<rect x="246.8" y="148.28" width="20.1" height="2.84" fill="#00fff7"/>
<rect x="246.8" y="150.82" width="20.1" height="2.84" fill="#00f7ff"/>
<rect x="246.8" y="153.37" width="20.1" height="2.84" fill="#00e7ff"/>
<rect x="246.8" y="155.91" width="20.1" height="2.84" fill="#00d7ff"/>
<rect x="246.8" y="158.45" width="20.1" height="2.84" fill="#00c7ff"/>
<rect x="246.8" y="160.99" width="20.1" height="2.84" fill="#00b7ff"/>
<rect x="246.8" y="163.54" width="20.1" height="2.84" fill="#00a7ff"/>
<rect x="246.8" y="166.08" width="20.1" height="2.84" fill="#0097ff"/>
<rect x="246.8" y="168.62" width="20.1" height="2.84" fill="#0087ff"/>
<rect x="246.8" y="171.16" width="20.1" height="2.84" fill="#0078ff"/>
<rect x="246.8" y="173.70" width="20.1" height="2.84" fill="#0068ff"/>
<rect x="246.8" y="176.25" width="20.1" height="2.84" fill="#0058ff"/>
<rect x="246.8" y="178.79" width="20.1" height="2.84" fill="#0048ff"/>
<rect x="246.8" y="181.33" width="20.1" height="2.84" fill="#0038ff"/>
<rect x="246.8" y="183.87" width="20.1" height="2.84" fill="#0028ff"/>
<rect x="246.8" y="186.42" width="20.1" height="2.84" fill="#0018ff"/>
<rect x="246.8" y="188.96" width="20.1" height="2.84" fill="#0008ff"/>
<rect x="246.8" y="191.5" width="20.1" height="3.5" fill="#000"/>
<rect x="246.8" y="25.6" width="20.1" height="169.4" fill="none" stroke="#444" stroke-width="0.7"/>
<line x1="266.9" y1="28.8" x2="269.4" y2="28.8" stroke="#000" stroke-width="0.8"/>
<text x="273.2" y="31.5" font-size="7.9">0.754</text>
<line x1="266.9" y1="49.1" x2="269.4" y2="49.1" stroke="#000" stroke-width="0.8"/>
<text x="273.2" y="51.8" font-size="7.9">0.662</text>
<line x1="266.9" y1="69.5" x2="269.4" y2="69.5" stroke="#000" stroke-width="0.8"/>
<text x="273.2" y="72.2" font-size="7.9">0.570</text>
<line x1="266.9" y1="89.8" x2="269.4" y2="89.8" stroke="#000" stroke-width="0.8"/>
<text x="273.2" y="92.5" font-size="7.9">0.478</text>
<line x1="266.9" y1="110.2" x2="269.4" y2="110.2" stroke="#000" stroke-width="0.8"/>
<text x="273.2" y="112.9" font-size="7.9">0.386</text>
<line x1="266.9" y1="130.5" x2="269.4" y2="130.5" stroke="#000" stroke-width="0.8"/>
<text x="273.2" y="133.2" font-size="7.9">0.294</text>
<line x1="266.9" y1="150.8" x2="269.4" y2="150.8" stroke="#000" stroke-width="0.8"/>
<text x="273.2" y="153.5" font-size="7.9">0.202</text>
<line x1="266.9" y1="171.2" x2="269.4" y2="171.2" stroke="#000" stroke-width="0.8"/>
<text x="273.2" y="173.9" font-size="7.9">0.110</text>
<line x1="266.9" y1="191.5" x2="269.4" y2="191.5" stroke="#000" stroke-width="0.8"/>
<text x="273.2" y="194.2" font-size="7.9">0.018</text>
<text x="258" y="20" font-size="11.1" text-anchor="middle"><tspan font-style="italic">zT</tspan> at RT</text>
<text x="0.6" y="18.2" font-size="24.2" font-family="Liberation Sans" stroke="#000" stroke-width="0.5">A</text>
</g>
<g id="pB">
<rect x="484.2" y="21" width="60.4" height="176.5" fill="#f3e4fb"/>
<line x1="484.2" y1="21" x2="484.2" y2="197.5" stroke="#d9d3dd" stroke-width="1.2"/>
<line x1="544.6" y1="21" x2="544.6" y2="197.5" stroke="#d9d3dd" stroke-width="1.2"/>
<path d="M352.5 183.9C354.1 183.2 358.9 181.4 362 180C365.1 178.6 368 177.2 371 175.5C374 173.8 377.2 172.1 380 170C382.8 167.9 385.7 165.7 388 163C390.3 160.3 392 157 394 154C396 151 398 147.6 400 145C402 142.4 403.8 140.5 406 138.5C408.2 136.5 410.2 134.9 413 133C415.8 131.1 418.8 129.4 423 127C427.2 124.6 433.5 121.1 438 118.5C442.5 115.9 446.3 113.8 450 111.5C453.7 109.2 457 107.1 460 104.5C463 101.9 465.3 99.1 468 96C470.7 92.9 473.4 89.2 476 86C478.6 82.8 481.3 79 483.5 77C485.7 75 486.8 74.7 489 74C491.2 73.3 494.2 73.2 497 73C499.8 72.8 503.2 72.7 506 72.8C508.8 72.9 511.8 72.7 514 73.5C516.2 74.3 517.3 75.7 519 77.5C520.7 79.3 522.2 82.2 524 84.5C525.8 86.8 527.8 89.3 530 91C532.2 92.7 534.7 93.5 537 94.5C539.3 95.5 541.8 95.8 544 97C546.2 98.2 548 99.2 550 101.5C552 103.8 554.2 107.6 556 111C557.8 114.4 559.3 118.3 561 122C562.7 125.7 564.2 128.9 566 133C567.8 137.1 571 144.2 572 146.5" fill="none" stroke="#f26a1b" stroke-width="1.5" stroke-dasharray="4.2 2.4"/>
<path d="M495 46.3C496.2 45.9 499.6 44.7 502 44C504.4 43.3 507 42.6 509.5 42C512 41.4 514.8 40.5 517 40.3C519.2 40.1 521 40.3 523 41C525 41.7 527 43.1 529 44.5C531 45.9 533.2 47.4 535 49.5C536.8 51.6 538.3 53.9 540 57C541.7 60.1 543.5 64.2 545 68C546.5 71.8 547.7 75.7 549 79.5C550.3 83.3 551.7 86.9 553 91C554.3 95.1 555.7 99.6 557 104C558.3 108.4 559.7 113 561 117.5C562.3 122 563.7 126.6 565 131C566.3 135.4 567.8 140.3 569 144C570.2 147.7 571.5 151.5 572 153" fill="none" stroke="#8f14f5" stroke-width="1.5" stroke-dasharray="4.2 2.4"/>
<path d="M484.2 60.3C485.2 60.5 487.9 61.1 490 61.5C492.1 61.9 494.5 62.2 497 62.5C499.5 62.8 502.5 63.1 505 63.2C507.5 63.3 509.8 63.2 512 63C514.2 62.8 516.2 62.4 518 61.8C519.8 61.2 521.5 60 523 59.6C524.5 59.2 525.7 58.9 527 59.2C528.3 59.5 529.7 60 531 61.5C532.3 63 533.7 65.4 535 68C536.3 70.6 537.5 73.7 539 77C540.5 80.3 542.3 84.5 544 88C545.7 91.5 547.3 94.3 549 98C550.7 101.7 552.3 105.8 554 110C555.7 114.2 557.3 118.5 559 123C560.7 127.5 562.5 132.7 564 137C565.5 141.3 566.8 145.2 568 149C569.2 152.8 570.5 157.8 571 159.5" fill="none" stroke="#1e82f0" stroke-width="1.5" stroke-dasharray="4.2 2.4"/>
<rect x="349.9" y="181.3" width="5.2" height="5.2" fill="#f26a1b"/>
<rect x="388.3" y="165" width="5.2" height="5.2" fill="#f26a1b"/>
<rect x="404.8" y="129.7" width="5.2" height="5.2" fill="#f26a1b"/>
<rect x="459.1" y="101.5" width="5.2" height="5.2" fill="#f26a1b"/>
<rect x="481.6" y="67.3" width="5.2" height="5.2" fill="#f26a1b"/>
<rect x="503" y="72.7" width="5.2" height="5.2" fill="#f26a1b"/>
<rect x="513.4" y="67.8" width="5.2" height="5.2" fill="#f26a1b"/>
<rect x="524.4" y="90.6" width="5.2" height="5.2" fill="#f26a1b"/>
<rect x="546.4" y="92.2" width="5.2" height="5.2" fill="#f26a1b"/>
<rect x="569.4" y="142.2" width="5.2" height="5.2" fill="#f26a1b"/>
<path d="M495.2 42.6L498.8 46.2L495.2 49.8L491.6 46.2Z" fill="#8f14f5"/>
<path d="M517.1 36.4L520.7 40L517.1 43.6L513.5 40Z" fill="#8f14f5"/>
<path d="M539.1 41.8L542.7 45.4L539.1 49L535.5 45.4Z" fill="#8f14f5"/>
<path d="M561 116.8L564.6 120.4L561 124L557.4 120.4Z" fill="#8f14f5"/>
<path d="M572 147.7L575.6 151.3L572 154.9L568.4 151.3Z" fill="#8f14f5"/>
<circle cx="484.2" cy="60.1" r="3" fill="#1e82f0"/>
<circle cx="517.1" cy="65" r="3" fill="#1e82f0"/>
<circle cx="528.1" cy="54.7" r="3" fill="#1e82f0"/>
<circle cx="539.1" cy="80.7" r="3" fill="#1e82f0"/>
<circle cx="550" cy="98.1" r="3" fill="#1e82f0"/>
<circle cx="572" cy="159.5" r="3" fill="#1e82f0"/>
<path d="M517 49L518.5 52.6L522.3 52.9L519.4 55.4L520.3 59.1L517 57.1L513.7 59.1L514.6 55.4L511.7 52.9L515.5 52.6Z" fill="#fff" stroke="#ee1c24" stroke-width="1.2"/>
<rect x="352.5" y="21" width="219.8" height="176.5" fill="none" stroke="#1a1a1a" stroke-width="1.4"/>
<line x1="352.5" y1="197.5" x2="352.5" y2="194" stroke="#000" stroke-width="1"/>
<text x="352.5" y="210.6" font-size="11.2" text-anchor="middle">0.0</text>
<line x1="407.4" y1="197.5" x2="407.4" y2="194" stroke="#000" stroke-width="1"/>
<text x="407.4" y="210.6" font-size="11.2" text-anchor="middle">0.5</text>
<line x1="462.2" y1="197.5" x2="462.2" y2="194" stroke="#000" stroke-width="1"/>
<text x="462.2" y="210.6" font-size="11.2" text-anchor="middle">1.0</text>
<line x1="517.1" y1="197.5" x2="517.1" y2="194" stroke="#000" stroke-width="1"/>
<text x="517.1" y="210.6" font-size="11.2" text-anchor="middle">1.5</text>
<line x1="572" y1="197.5" x2="572" y2="194" stroke="#000" stroke-width="1"/>
<text x="572" y="210.6" font-size="11.2" text-anchor="middle">2.0</text>
<line x1="379.9" y1="197.5" x2="379.9" y2="195.5" stroke="#000" stroke-width="0.8"/>
<line x1="434.8" y1="197.5" x2="434.8" y2="195.5" stroke="#000" stroke-width="0.8"/>
<line x1="489.7" y1="197.5" x2="489.7" y2="195.5" stroke="#000" stroke-width="0.8"/>
<line x1="544.6" y1="197.5" x2="544.6" y2="195.5" stroke="#000" stroke-width="0.8"/>
<line x1="352.5" y1="183.9" x2="356" y2="183.9" stroke="#000" stroke-width="1"/>
<text x="349.3" y="187.6" font-size="11.2" text-anchor="end">35</text>
<line x1="352.5" y1="156.8" x2="356" y2="156.8" stroke="#000" stroke-width="1"/>
<text x="349.3" y="160.4" font-size="11.2" text-anchor="end">40</text>
<line x1="352.5" y1="129.6" x2="356" y2="129.6" stroke="#000" stroke-width="1"/>
<text x="349.3" y="133.3" font-size="11.2" text-anchor="end">45</text>
<line x1="352.5" y1="102.5" x2="356" y2="102.5" stroke="#000" stroke-width="1"/>
<text x="349.3" y="106.2" font-size="11.2" text-anchor="end">50</text>
<line x1="352.5" y1="75.3" x2="356" y2="75.3" stroke="#000" stroke-width="1"/>
<text x="349.3" y="79" font-size="11.2" text-anchor="end">55</text>
<line x1="352.5" y1="48.2" x2="356" y2="48.2" stroke="#000" stroke-width="1"/>
<text x="349.3" y="51.9" font-size="11.2" text-anchor="end">60</text>
<line x1="352.5" y1="21" x2="356" y2="21" stroke="#000" stroke-width="1"/>
<text x="349.3" y="24.7" font-size="11.2" text-anchor="end">65</text>
<line x1="352.5" y1="170.3" x2="354.5" y2="170.3" stroke="#000" stroke-width="0.8"/>
<line x1="352.5" y1="143.2" x2="354.5" y2="143.2" stroke="#000" stroke-width="0.8"/>
<line x1="352.5" y1="116" x2="354.5" y2="116" stroke="#000" stroke-width="0.8"/>
<line x1="352.5" y1="88.9" x2="354.5" y2="88.9" stroke="#000" stroke-width="0.8"/>
<line x1="352.5" y1="61.7" x2="354.5" y2="61.7" stroke="#000" stroke-width="0.8"/>
<line x1="352.5" y1="34.6" x2="354.5" y2="34.6" stroke="#000" stroke-width="0.8"/>
<text x="330.3" y="141.3" font-size="15.4" transform="rotate(-90 330.3 141.3)">Δ<tspan font-style="italic">T</tspan><tspan font-size="9.3" dy="2.8">max</tspan><tspan dy="-2.8"> (K)</tspan></text>
<text x="461.8" y="226.5" font-size="14.9" text-anchor="middle"><tspan font-style="italic">x</tspan> in Mg<tspan font-size="10" dy="3.5">3.2</tspan><tspan dy="-3.5">Sb</tspan><tspan font-size="10" dy="3.5" font-style="italic">2-x</tspan><tspan dy="-3.5">Bi</tspan><tspan font-size="10" dy="3.5" font-style="italic">x</tspan></text>
<text x="362.7" y="34.2" font-size="8.2">Predicted</text>
<line x1="361.3" y1="41.9" x2="381.3" y2="41.9" stroke="#f26a1b" stroke-width="1.3" stroke-dasharray="4 2.2"/>
<rect x="368.9" y="39.3" width="5.2" height="5.2" fill="#f26a1b"/>
<text x="383.2" y="44.4" font-size="8.2" font-weight="normal">Imasato <tspan font-style="italic">et al.</tspan></text>
<line x1="361.3" y1="52" x2="381.3" y2="52" stroke="#8f14f5" stroke-width="1.3" stroke-dasharray="4 2.2"/>
<path d="M371.5 48.4L375.1 52L371.5 55.6L367.9 52Z" fill="#8f14f5"/>
<text x="383.2" y="54.6" font-size="8.2" font-weight="normal">Mao <tspan font-style="italic">et al.</tspan></text>
<line x1="361.3" y1="62.7" x2="381.3" y2="62.7" stroke="#1e82f0" stroke-width="1.3" stroke-dasharray="4 2.2"/>
<circle cx="371.5" cy="62.7" r="3" fill="#1e82f0"/>
<text x="383.2" y="65.3" font-size="8.2" font-weight="normal">Han <tspan font-style="italic">et al.</tspan></text>
<text x="362.7" y="75.1" font-size="8.2">Measured in this work</text>
<path d="M371.5 78.8L372.7 81.8L375.9 82L373.4 84L374.2 87.1L371.5 85.4L368.8 87.1L369.6 84L367.1 82L370.3 81.8Z" fill="#fff" stroke="#ee1c24" stroke-width="1.1"/>
<text x="383.2" y="85.8" font-size="8.2" font-weight="normal">MBST/SBTS module</text>
<text x="308" y="18.1" font-size="24.2" font-family="Liberation Sans" stroke="#000" stroke-width="0.5">B</text>
</g>
<g id="pC">
<defs><linearGradient id="gC" x1="0" x2="1" y1="0" y2="0"><stop offset="0" stop-color="#1fd9e0"/><stop offset="0.3" stop-color="#4aa5e6"/><stop offset="0.55" stop-color="#8a70ec"/><stop offset="0.75" stop-color="#cf35f5"/><stop offset="0.9" stop-color="#f51df8"/><stop offset="1" stop-color="#fb14fb"/></linearGradient>
<linearGradient id="gCyl" x1="0" x2="1"><stop offset="0" stop-color="#a2a2a2"/><stop offset="0.35" stop-color="#d2d2d2"/><stop offset="0.7" stop-color="#b4b4b4"/><stop offset="1" stop-color="#8c8c8c"/></linearGradient></defs>
<rect x="50" y="241.5" width="223" height="179.4" fill="url(#gC)"/>
<clipPath id="clC"><rect x="50" y="241.5" width="223" height="179.9"/></clipPath><g fill="#fff" stroke="#1a1a1a" stroke-width="0.85" clip-path="url(#clC)">
<circle cx="50.8" cy="420.9" r="2.5"/><circle cx="52.2" cy="420.9" r="2.5"/><circle cx="53.6" cy="420.9" r="2.5"/><circle cx="55" cy="420.9" r="2.5"/><circle cx="56.4" cy="420.8" r="2.5"/><circle cx="57.8" cy="420.8" r="2.5"/><circle cx="59.2" cy="420.8" r="2.5"/><circle cx="60.6" cy="420.7" r="2.5"/><circle cx="62" cy="420.6" r="2.5"/><circle cx="63.4" cy="420.4" r="2.5"/><circle cx="64.8" cy="420.3" r="2.5"/><circle cx="66.2" cy="420.1" r="2.5"/><circle cx="67.6" cy="419.6" r="2.5"/><circle cx="69" cy="419.2" r="2.5"/><circle cx="70.3" cy="418.8" r="2.5"/><circle cx="71.7" cy="418.4" r="2.5"/><circle cx="73.1" cy="417.7" r="2.5"/><circle cx="74.5" cy="416.9" r="2.5"/><circle cx="75.9" cy="416" r="2.5"/><circle cx="77.3" cy="415.2" r="2.5"/><circle cx="78.7" cy="414.4" r="2.5"/><circle cx="80.1" cy="413.5" r="2.5"/><circle cx="81.5" cy="412.4" r="2.5"/><circle cx="82.9" cy="411.2" r="2.5"/><circle cx="84.3" cy="410.1" r="2.5"/><circle cx="85.7" cy="408.9" r="2.5"/><circle cx="87.1" cy="407.7" r="2.5"/><circle cx="88.5" cy="406.3" r="2.5"/><circle cx="89.9" cy="405" r="2.5"/><circle cx="91.2" cy="403.6" r="2.5"/><circle cx="92.6" cy="402.3" r="2.5"/><circle cx="94" cy="400.7" r="2.5"/><circle cx="95.4" cy="398.8" r="2.5"/><circle cx="96.8" cy="396.9" r="2.5"/><circle cx="98.2" cy="395.1" r="2.5"/><circle cx="99.6" cy="393.2" r="2.5"/><circle cx="101" cy="391.1" r="2.5"/><circle cx="102.4" cy="388.8" r="2.5"/><circle cx="103.8" cy="386.4" r="2.5"/><circle cx="105.2" cy="384.1" r="2.5"/><circle cx="106.6" cy="381.7" r="2.5"/><circle cx="108" cy="379.1" r="2.5"/><circle cx="109.4" cy="376.4" r="2.5"/><circle cx="110.8" cy="373.7" r="2.5"/><circle cx="112.2" cy="371" r="2.5"/><circle cx="113.5" cy="368.4" r="2.5"/><circle cx="114.9" cy="365.9" r="2.5"/><circle cx="116.3" cy="363.3" r="2.5"/><circle cx="117.7" cy="360.7" r="2.5"/><circle cx="119.1" cy="358" r="2.5"/><circle cx="120.5" cy="355.4" r="2.5"/><circle cx="122.3" cy="352.2" r="2.5"/><circle cx="124.1" cy="349" r="2.5"/><circle cx="125.9" cy="346.1" r="2.5"/><circle cx="127.8" cy="343.8" r="2.5"/><circle cx="129.6" cy="341.5" r="2.5"/><circle cx="131.4" cy="339.7" r="2.5"/><circle cx="133.2" cy="337.9" r="2.5"/><circle cx="135" cy="335" r="2.5"/><circle cx="136.8" cy="332.1" r="2.5"/><circle cx="138.6" cy="329.3" r="2.5"/><circle cx="139.2" cy="328.5" r="2.5"/>
</g>
<path d="M50.5 418.6L58 418.6L66 418L66 419.6L60 420.6L50.5 421Z" fill="#0a0a0a"/>
<path d="M133.6 311.2L140 297.9L147 282.9L154 275.7L167.9 272.1L181.8 281.6L195.8 301.7L209.7 324.5L223.6 344.2L237.6 361.4L251.5 376.9" fill="none" stroke="#111" stroke-width="1.5" stroke-dasharray="5 2 1.5 2"/>
<g fill="#fff" stroke="#111" stroke-width="0.9">
<circle cx="133.6" cy="311.2" r="2.55"/><circle cx="140" cy="297.9" r="2.55"/><circle cx="147" cy="282.9" r="2.55"/><circle cx="154" cy="275.7" r="2.55"/><circle cx="167.9" cy="272.1" r="2.55"/><circle cx="181.8" cy="281.6" r="2.55"/><circle cx="195.8" cy="301.7" r="2.55"/><circle cx="209.7" cy="324.5" r="2.55"/><circle cx="223.6" cy="344.2" r="2.55"/><circle cx="237.6" cy="361.4" r="2.55"/><circle cx="251.5" cy="376.9" r="2.55"/>
</g>
<circle cx="66.7" cy="252.5" r="2.55" fill="#fff" stroke="#111" stroke-width="0.9"/>
<text x="80" y="256" font-size="9.3">Measured by PPMS</text>
<line x1="55.5" y1="264.3" x2="77.5" y2="264.3" stroke="#111" stroke-width="1.5" stroke-dasharray="5 2 1.5 2"/>
<circle cx="66.7" cy="264.3" r="2.55" fill="#fff" stroke="#111" stroke-width="0.9"/>
<text x="80" y="267.7" font-size="9.3">Measured by Linseis</text>
<path d="M138 384L138 392A11.6 3 0 0 0 161.2 392L161.2 384Z" fill="url(#gCyl)" stroke="#555" stroke-width="0.4"/>
<path d="M126.5 358L126.5 384A23 5.2 0 0 0 172.5 384L172.5 358Z" fill="url(#gCyl)" stroke="#555" stroke-width="0.5"/>
<ellipse cx="149.5" cy="358" rx="23" ry="5.2" fill="#c9c9c9" stroke="#666" stroke-width="0.5"/>
<ellipse cx="149.6" cy="355.8" rx="11" ry="2.3" fill="#111"/>
<path d="M138 341.5L138 353A11.6 2.6 0 0 0 161.2 353L161.2 341.5Z" fill="url(#gCyl)" stroke="#555" stroke-width="0.4"/>
<ellipse cx="149.6" cy="341.5" rx="11.6" ry="2.6" fill="#d2d2d2" stroke="#666" stroke-width="0.4"/>
<path d="M147.4 332L151.8 332L151.8 337L154.1 337L149.6 341.6L145.1 337L147.4 337Z" fill="none" stroke="#0f1a50" stroke-width="1"/>
<path d="M147.4 407L151.8 407L151.8 401.6L153.9 401.6L149.6 397L145.3 401.6L147.4 401.6Z" fill="none" stroke="#0f1a50" stroke-width="1"/>
<path d="M144.4 368L144.4 380A5.2 1.8 0 0 0 154.8 380L154.8 368" fill="#b8b8e8" fill-opacity="0.5" stroke="#3a3ad0" stroke-width="0.7"/>
<ellipse cx="149.6" cy="368" rx="5.2" ry="1.8" fill="#d0d0f0" fill-opacity="0.6" stroke="#3a3ad0" stroke-width="0.7"/>
<path d="M144.4 380A5.2 1.8 0 0 1 154.8 380" fill="none" stroke="#3a3ad0" stroke-width="0.5"/>
<text x="149.6" y="351.2" font-size="6.4" text-anchor="middle" fill="#111">20 mm</text>
<text x="149.3" y="377.3" font-size="6.3" text-anchor="middle" fill="#111">12.7-mm sample</text>
<path d="M175.5 365.5L183.5 365.5L183.5 362.2L190.5 368L183.5 373.8L183.5 370.5L175.5 370.5Z" fill="none" stroke="#222" stroke-width="0.8" stroke-dasharray="1.8 1.1"/>
<text x="209.5" y="362.4" font-size="6.5" text-anchor="middle" fill="#1a0a2a">Deformed sample</text>
<ellipse cx="207.5" cy="369" rx="12.6" ry="1.9" fill="#dfe6ff" stroke="#3a4ae0" stroke-width="0.8"/>
<line x1="195.5" y1="372.5" x2="219.5" y2="372.5" stroke="#000" stroke-width="1"/>
<line x1="195.5" y1="371" x2="195.5" y2="374" stroke="#000" stroke-width="0.6"/>
<line x1="219.5" y1="371" x2="219.5" y2="374" stroke="#000" stroke-width="0.6"/>
<text x="207.3" y="380" font-size="6.4" text-anchor="middle" fill="#1a0a2a">20 mm</text>
<rect x="163.4" y="390.5" width="71" height="24" fill="#fff" stroke="#35c4f2" stroke-width="1.1"/>
<text x="199" y="400.7" font-size="9.2" text-anchor="middle" fill="#22b2f0">Hot deformation</text>
<text x="199" y="411.8" font-size="9.2" text-anchor="middle" fill="#22b2f0">process</text>
<rect x="50" y="241.5" width="223" height="179.4" fill="none" stroke="#111" stroke-width="1.5"/>
<line x1="50" y1="420.9" x2="50" y2="417.4" stroke="#000" stroke-width="1"/>
<text x="50" y="433.5" font-size="10.9" text-anchor="middle">0</text>
<line x1="77.9" y1="420.9" x2="77.9" y2="417.4" stroke="#000" stroke-width="1"/>
<text x="77.9" y="433.5" font-size="10.9" text-anchor="middle">100</text>
<line x1="105.7" y1="420.9" x2="105.7" y2="417.4" stroke="#000" stroke-width="1"/>
<text x="105.7" y="433.5" font-size="10.9" text-anchor="middle">200</text>
<line x1="133.6" y1="420.9" x2="133.6" y2="417.4" stroke="#000" stroke-width="1"/>
<text x="133.6" y="433.5" font-size="10.9" text-anchor="middle">300</text>
<line x1="161.5" y1="420.9" x2="161.5" y2="417.4" stroke="#000" stroke-width="1"/>
<text x="161.5" y="433.5" font-size="10.9" text-anchor="middle">400</text>
<line x1="189.3" y1="420.9" x2="189.3" y2="417.4" stroke="#000" stroke-width="1"/>
<text x="189.3" y="433.5" font-size="10.9" text-anchor="middle">500</text>
<line x1="217.2" y1="420.9" x2="217.2" y2="417.4" stroke="#000" stroke-width="1"/>
<text x="217.2" y="433.5" font-size="10.9" text-anchor="middle">600</text>
<line x1="245.1" y1="420.9" x2="245.1" y2="417.4" stroke="#000" stroke-width="1"/>
<text x="245.1" y="433.5" font-size="10.9" text-anchor="middle">700</text>
<line x1="273" y1="420.9" x2="273" y2="417.4" stroke="#000" stroke-width="1"/>
<text x="273" y="433.5" font-size="10.9" text-anchor="middle">800</text>
<line x1="63.9" y1="420.9" x2="63.9" y2="418.9" stroke="#000" stroke-width="0.8"/>
<line x1="91.8" y1="420.9" x2="91.8" y2="418.9" stroke="#000" stroke-width="0.8"/>
<line x1="119.7" y1="420.9" x2="119.7" y2="418.9" stroke="#000" stroke-width="0.8"/>
<line x1="147.5" y1="420.9" x2="147.5" y2="418.9" stroke="#000" stroke-width="0.8"/>
<line x1="175.4" y1="420.9" x2="175.4" y2="418.9" stroke="#000" stroke-width="0.8"/>
<line x1="203.3" y1="420.9" x2="203.3" y2="418.9" stroke="#000" stroke-width="0.8"/>
<line x1="231.2" y1="420.9" x2="231.2" y2="418.9" stroke="#000" stroke-width="0.8"/>
<line x1="259" y1="420.9" x2="259" y2="418.9" stroke="#000" stroke-width="0.8"/>
<line x1="50" y1="420.9" x2="53.5" y2="420.9" stroke="#000" stroke-width="1"/>
<text x="45.6" y="424.7" font-size="11.4" text-anchor="end">0.0</text>
<line x1="50" y1="391" x2="53.5" y2="391" stroke="#000" stroke-width="1"/>
<text x="45.6" y="394.8" font-size="11.4" text-anchor="end">0.2</text>
<line x1="50" y1="361.1" x2="53.5" y2="361.1" stroke="#000" stroke-width="1"/>
<text x="45.6" y="364.9" font-size="11.4" text-anchor="end">0.4</text>
<line x1="50" y1="331.2" x2="53.5" y2="331.2" stroke="#000" stroke-width="1"/>
<text x="45.6" y="335" font-size="11.4" text-anchor="end">0.6</text>
<line x1="50" y1="301.3" x2="53.5" y2="301.3" stroke="#000" stroke-width="1"/>
<text x="45.6" y="305.1" font-size="11.4" text-anchor="end">0.8</text>
<line x1="50" y1="271.4" x2="53.5" y2="271.4" stroke="#000" stroke-width="1"/>
<text x="45.6" y="275.2" font-size="11.4" text-anchor="end">1.0</text>
<line x1="50" y1="241.5" x2="53.5" y2="241.5" stroke="#000" stroke-width="1"/>
<text x="45.6" y="245.3" font-size="11.4" text-anchor="end">1.2</text>
<line x1="50" y1="405.9" x2="52" y2="405.9" stroke="#000" stroke-width="0.8"/>
<line x1="50" y1="376" x2="52" y2="376" stroke="#000" stroke-width="0.8"/>
<line x1="50" y1="346.1" x2="52" y2="346.1" stroke="#000" stroke-width="0.8"/>
<line x1="50" y1="316.2" x2="52" y2="316.2" stroke="#000" stroke-width="0.8"/>
<line x1="50" y1="286.3" x2="52" y2="286.3" stroke="#000" stroke-width="0.8"/>
<line x1="50" y1="256.4" x2="52" y2="256.4" stroke="#000" stroke-width="0.8"/>
<text x="27.8" y="324.5" font-size="17.6" text-anchor="middle" font-style="italic" transform="rotate(-90 27.8 324.5)">zT</text>
<text x="162" y="454.5" font-size="15.6" text-anchor="middle">Temperature (K)</text>
<text x="1.6" y="248" font-size="24.6" font-family="Liberation Sans" stroke="#000" stroke-width="0.5">C</text>
</g>
<g id="pD">
<path d="M348.5 334.4L471.3 334.4L484.6 333L497.7 334.8L510.7 330.8L523.9 331.7L535.1 334.4L551.7 318.3" fill="none" stroke="#a010d0" stroke-width="1.6" stroke-dasharray="3.4 2"/>
<path d="M348.5 336.2L471.3 333L484.6 331.7L497.7 333L510.7 330.4L523.9 330.4L535.1 329.9L551.7 326.8" fill="none" stroke="#a010d0" stroke-width="1.6" stroke-dasharray="3.4 2"/>
<path d="M348.5 338L471.3 328.6L484.6 326.8L497.7 321.4L510.7 320.5L523.9 318.7L535.1 292.4L551.7 273.1" fill="none" stroke="#a010d0" stroke-width="1.6" stroke-dasharray="3.4 2"/>
<path d="M348.5 339.7L471.3 331.7L484.6 329.9L497.7 328.1L510.7 326.3L523.9 323.7L535.1 304.9L551.7 292.4" fill="none" stroke="#a010d0" stroke-width="1.6" stroke-dasharray="3.4 2"/>
<path d="M348.5 354.9L471.3 358.5L484.6 361L497.7 353.8L510.7 357.7L523.9 356.8L535.1 351L551.7 357.7" fill="none" stroke="#1a40ff" stroke-width="1.5" stroke-dasharray="3.4 2"/>
<path d="M348.5 350.1L471.3 346.2L484.6 345.1L497.7 347.9L510.7 347.6L523.9 347.1L535.1 349L551.7 349.6" fill="none" stroke="#1a40ff" stroke-width="1.5" stroke-dasharray="3.4 2"/>
<path d="M348.5 357.7L471.3 367.5L484.6 361.6L497.7 361L510.7 362.4L523.9 359.6L535.1 376.4" fill="none" stroke="#1a40ff" stroke-width="1.5" stroke-dasharray="3.4 2"/>
<path d="M535.1 376.4L551.7 416.4" fill="none" stroke="#1a40ff" stroke-width="1.05"/>
<path d="M348.5 360.2L471.3 364.4L484.6 363L497.7 366.6L510.7 363.8L523.9 360.2L535.1 378.9" fill="none" stroke="#1a40ff" stroke-width="1.5" stroke-dasharray="3.4 2"/>
<path d="M535.1 378.9L551.7 416.4" fill="none" stroke="#1a40ff" stroke-width="1.05"/>
<path d="M348.50 330.68L349.44 333.09L352.02 333.24L350.02 334.88L350.67 337.38L348.50 335.98L346.33 337.38L346.98 334.88L344.98 333.24L347.56 333.09Z" fill="#fff" stroke="#a010d0" stroke-width="0.9"/>
<path d="M471.25 330.68L472.19 333.09L474.77 333.24L472.77 334.88L473.43 337.38L471.25 335.98L469.08 337.38L469.73 334.88L467.73 333.24L470.31 333.09Z" fill="#fff" stroke="#a010d0" stroke-width="0.9"/>
<path d="M484.60 329.34L485.54 331.75L488.12 331.90L486.12 333.54L486.78 336.03L484.60 334.64L482.43 336.03L483.08 333.54L481.08 331.90L483.66 331.75Z" fill="#fff" stroke="#a010d0" stroke-width="0.9"/>
<path d="M497.73 331.13L498.67 333.53L501.25 333.69L499.25 335.32L499.90 337.82L497.73 336.43L495.55 337.82L496.21 335.32L494.21 333.69L496.79 333.53Z" fill="#fff" stroke="#a010d0" stroke-width="0.9"/>
<path d="M510.70 327.11L511.64 329.51L514.22 329.66L512.22 331.30L512.87 333.80L510.70 332.41L508.53 333.80L509.18 331.30L507.18 329.66L509.76 329.51Z" fill="#fff" stroke="#a010d0" stroke-width="0.9"/>
<path d="M523.90 328.00L524.84 330.41L527.42 330.56L525.42 332.19L526.07 334.69L523.90 333.30L521.73 334.69L522.38 332.19L520.38 330.56L522.96 330.41Z" fill="#fff" stroke="#a010d0" stroke-width="0.9"/>
<path d="M535.09 330.68L536.03 333.09L538.61 333.24L536.62 334.88L537.27 337.38L535.09 335.98L532.92 337.38L533.57 334.88L531.57 333.24L534.15 333.09Z" fill="#fff" stroke="#a010d0" stroke-width="0.9"/>
<path d="M551.68 314.59L552.62 317.00L555.20 317.15L553.20 318.78L553.85 321.28L551.68 319.89L549.50 321.28L550.16 318.78L548.16 317.15L550.74 317.00Z" fill="#fff" stroke="#a010d0" stroke-width="0.9"/>
<path d="M348.50 332.27L349.47 334.84L352.21 334.96L350.07 336.68L350.79 339.33L348.50 337.82L346.21 339.33L346.93 336.68L344.79 334.96L347.53 334.84Z" fill="#a010d0" stroke="#a010d0" stroke-width="0.5"/>
<path d="M471.25 329.14L472.22 331.71L474.96 331.84L472.82 333.55L473.54 336.20L471.25 334.69L468.96 336.20L469.68 333.55L467.54 331.84L470.28 331.71Z" fill="#a010d0" stroke="#a010d0" stroke-width="0.5"/>
<path d="M484.60 327.80L485.57 330.37L488.31 330.49L486.17 332.21L486.89 334.86L484.60 333.35L482.31 334.86L483.03 332.21L480.89 330.49L483.63 330.37Z" fill="#a010d0" stroke="#a010d0" stroke-width="0.5"/>
<path d="M497.73 329.14L498.70 331.71L501.44 331.84L499.30 333.55L500.02 336.20L497.73 334.69L495.43 336.20L496.16 333.55L494.02 331.84L496.76 331.71Z" fill="#a010d0" stroke="#a010d0" stroke-width="0.5"/>
<path d="M510.70 326.46L511.67 329.02L514.41 329.15L512.27 330.87L512.99 333.51L510.70 332.01L508.41 333.51L509.13 330.87L506.99 329.15L509.73 329.02Z" fill="#a010d0" stroke="#a010d0" stroke-width="0.5"/>
<path d="M523.90 326.46L524.87 329.02L527.61 329.15L525.47 330.87L526.19 333.51L523.90 332.01L521.61 333.51L522.33 330.87L520.19 329.15L522.93 329.02Z" fill="#a010d0" stroke="#a010d0" stroke-width="0.5"/>
<path d="M535.09 326.01L536.06 328.58L538.80 328.71L536.66 330.42L537.39 333.07L535.09 331.56L532.80 333.07L533.52 330.42L531.38 328.71L534.12 328.58Z" fill="#a010d0" stroke="#a010d0" stroke-width="0.5"/>
<path d="M551.68 322.88L552.65 325.45L555.39 325.58L553.25 327.29L553.97 329.94L551.68 328.43L549.39 329.94L550.11 327.29L547.97 325.58L550.71 325.45Z" fill="#a010d0" stroke="#a010d0" stroke-width="0.5"/>
<circle cx="348.5" cy="338" r="2.9" fill="#fff" stroke="#a010d0" stroke-width="1"/>
<circle cx="471.3" cy="328.6" r="2.9" fill="#fff" stroke="#a010d0" stroke-width="1"/>
<circle cx="484.6" cy="326.8" r="2.9" fill="#fff" stroke="#a010d0" stroke-width="1"/>
<circle cx="497.7" cy="321.4" r="2.9" fill="#fff" stroke="#a010d0" stroke-width="1"/>
<circle cx="510.7" cy="320.5" r="2.9" fill="#fff" stroke="#a010d0" stroke-width="1"/>
<circle cx="523.9" cy="318.7" r="2.9" fill="#fff" stroke="#a010d0" stroke-width="1"/>
<circle cx="535.1" cy="292.4" r="2.9" fill="#fff" stroke="#a010d0" stroke-width="1"/>
<circle cx="551.7" cy="273.1" r="2.9" fill="#fff" stroke="#a010d0" stroke-width="1"/>
<circle cx="348.5" cy="339.7" r="3.3" fill="#a010d0"/>
<circle cx="471.3" cy="331.7" r="3.3" fill="#a010d0"/>
<circle cx="484.6" cy="329.9" r="3.3" fill="#a010d0"/>
<circle cx="497.7" cy="328.1" r="3.3" fill="#a010d0"/>
<circle cx="510.7" cy="326.3" r="3.3" fill="#a010d0"/>
<circle cx="523.9" cy="323.7" r="3.3" fill="#a010d0"/>
<circle cx="535.1" cy="304.9" r="3.3" fill="#a010d0"/>
<circle cx="551.7" cy="292.4" r="3.3" fill="#a010d0"/>
<path d="M348.50 351.18L349.44 353.59L352.02 353.74L350.02 355.38L350.67 357.88L348.50 356.48L346.33 357.88L346.98 355.38L344.98 353.74L347.56 353.59Z" fill="#fff" stroke="#1a40ff" stroke-width="0.9"/>
<path d="M471.25 354.81L472.19 357.22L474.77 357.37L472.77 359.01L473.43 361.51L471.25 360.11L469.08 361.51L469.73 359.01L467.73 357.37L470.31 357.22Z" fill="#fff" stroke="#1a40ff" stroke-width="0.9"/>
<path d="M484.60 357.33L485.54 359.73L488.12 359.89L486.12 361.52L486.78 364.02L484.60 362.63L482.43 364.02L483.08 361.52L481.08 359.89L483.66 359.73Z" fill="#fff" stroke="#1a40ff" stroke-width="0.9"/>
<path d="M497.73 350.06L498.67 352.47L501.25 352.62L499.25 354.26L499.90 356.76L497.73 355.36L495.55 356.76L496.21 354.26L494.21 352.62L496.79 352.47Z" fill="#fff" stroke="#1a40ff" stroke-width="0.9"/>
<path d="M510.70 353.98L511.64 356.38L514.22 356.53L512.22 358.17L512.87 360.67L510.70 359.28L508.53 360.67L509.18 358.17L507.18 356.53L509.76 356.38Z" fill="#fff" stroke="#1a40ff" stroke-width="0.9"/>
<path d="M523.90 353.14L524.84 355.54L527.42 355.69L525.42 357.33L526.07 359.83L523.90 358.44L521.73 359.83L522.38 357.33L520.38 355.69L522.96 355.54Z" fill="#fff" stroke="#1a40ff" stroke-width="0.9"/>
<path d="M535.09 347.27L536.03 349.68L538.61 349.83L536.62 351.47L537.27 353.96L535.09 352.57L532.92 353.96L533.57 351.47L531.57 349.83L534.15 349.68Z" fill="#fff" stroke="#1a40ff" stroke-width="0.9"/>
<path d="M551.68 353.98L552.62 356.38L555.20 356.53L553.20 358.17L553.85 360.67L551.68 359.28L549.50 360.67L550.16 358.17L548.16 356.53L550.74 356.38Z" fill="#fff" stroke="#1a40ff" stroke-width="0.9"/>
<path d="M348.50 346.23L349.47 348.80L352.21 348.93L350.07 350.64L350.79 353.29L348.50 351.78L346.21 353.29L346.93 350.64L344.79 348.93L347.53 348.80Z" fill="#1a40ff" stroke="#1a40ff" stroke-width="0.5"/>
<path d="M471.25 342.32L472.22 344.89L474.96 345.02L472.82 346.73L473.54 349.38L471.25 347.87L468.96 349.38L469.68 346.73L467.54 345.02L470.28 344.89Z" fill="#1a40ff" stroke="#1a40ff" stroke-width="0.5"/>
<path d="M484.60 341.20L485.57 343.77L488.31 343.90L486.17 345.61L486.89 348.26L484.60 346.75L482.31 348.26L483.03 345.61L480.89 343.90L483.63 343.77Z" fill="#1a40ff" stroke="#1a40ff" stroke-width="0.5"/>
<path d="M497.73 344.00L498.70 346.56L501.44 346.69L499.30 348.41L500.02 351.05L497.73 349.55L495.43 351.05L496.16 348.41L494.02 346.69L496.76 346.56Z" fill="#1a40ff" stroke="#1a40ff" stroke-width="0.5"/>
<path d="M510.70 343.72L511.67 346.28L514.41 346.41L512.27 348.13L512.99 350.77L510.70 349.27L508.41 350.77L509.13 348.13L506.99 346.41L509.73 346.28Z" fill="#1a40ff" stroke="#1a40ff" stroke-width="0.5"/>
<path d="M523.90 343.16L524.87 345.72L527.61 345.85L525.47 347.57L526.19 350.21L523.90 348.71L521.61 350.21L522.33 347.57L520.19 345.85L522.93 345.72Z" fill="#1a40ff" stroke="#1a40ff" stroke-width="0.5"/>
<path d="M535.09 345.11L536.06 347.68L538.80 347.81L536.66 349.52L537.39 352.17L535.09 350.66L532.80 352.17L533.52 349.52L531.38 347.81L534.12 347.68Z" fill="#1a40ff" stroke="#1a40ff" stroke-width="0.5"/>
<path d="M551.68 345.67L552.65 348.24L555.39 348.37L553.25 350.08L553.97 352.73L551.68 351.22L549.39 352.73L550.11 350.08L547.97 348.37L550.71 348.24Z" fill="#1a40ff" stroke="#1a40ff" stroke-width="0.5"/>
<circle cx="348.5" cy="357.7" r="2.9" fill="#fff" stroke="#1a40ff" stroke-width="1"/>
<circle cx="471.3" cy="367.5" r="2.9" fill="#fff" stroke="#1a40ff" stroke-width="1"/>
<circle cx="484.6" cy="361.6" r="2.9" fill="#fff" stroke="#1a40ff" stroke-width="1"/>
<circle cx="497.7" cy="361" r="2.9" fill="#fff" stroke="#1a40ff" stroke-width="1"/>
<circle cx="510.7" cy="362.4" r="2.9" fill="#fff" stroke="#1a40ff" stroke-width="1"/>
<circle cx="523.9" cy="359.6" r="2.9" fill="#fff" stroke="#1a40ff" stroke-width="1"/>
<circle cx="535.1" cy="376.4" r="2.9" fill="#fff" stroke="#1a40ff" stroke-width="1"/>
<circle cx="551.7" cy="416.4" r="2.9" fill="#fff" stroke="#1a40ff" stroke-width="1"/>
<circle cx="348.5" cy="360.2" r="3.3" fill="#1a40ff"/>
<circle cx="471.3" cy="364.4" r="3.3" fill="#1a40ff"/>
<circle cx="484.6" cy="363" r="3.3" fill="#1a40ff"/>
<circle cx="497.7" cy="366.6" r="3.3" fill="#1a40ff"/>
<circle cx="510.7" cy="363.8" r="3.3" fill="#1a40ff"/>
<circle cx="523.9" cy="360.2" r="3.3" fill="#1a40ff"/>
<circle cx="535.1" cy="378.9" r="3.3" fill="#1a40ff"/>
<circle cx="551.7" cy="416.4" r="3.3" fill="#1a40ff"/>
<ellipse cx="424" cy="333.2" rx="2.4" ry="7.6" fill="none" stroke="#a010d0" stroke-width="0.9"/>
<line x1="424" y1="325.5" x2="400" y2="325.5" stroke="#a010d0" stroke-width="0.9"/>
<path d="M398.5 325.5L403.5 323.6L403.5 327.4Z" fill="#a010d0"/>
<ellipse cx="404" cy="358.8" rx="5.4" ry="17.4" fill="none" stroke="#1a40ff" stroke-width="0.9"/>
<line x1="404" y1="376.2" x2="430" y2="376.2" stroke="#1a40ff" stroke-width="0.9"/>
<path d="M431.8 376.2L426.8 374.3L426.8 378.1Z" fill="#1a40ff"/>
<ellipse cx="551.5" cy="283" rx="10" ry="18.6" fill="none" stroke="#ff1a1a" stroke-width="1.2" stroke-dasharray="3.5 2.2"/>
<ellipse cx="550" cy="415.6" rx="15.4" ry="6.4" fill="none" stroke="#ff1a1a" stroke-width="1.2" stroke-dasharray="3.5 2.2"/>
<line x1="502" y1="303.6" x2="539.5" y2="282" stroke="#ff1a1a" stroke-width="0.9"/>
<path d="M541.6 280.8L538.2 285.2L536.2 281.6Z" fill="#ff1a1a"/>
<text x="427.2" y="307.4" font-size="9.2" fill="#ff1a1a">Changed to p-type</text>
<line x1="356.5" y1="252.5" x2="362" y2="252.5" stroke="#a010d0" stroke-width="1.3"/>
<line x1="370.2" y1="252.5" x2="373.2" y2="252.5" stroke="#a010d0" stroke-width="1.3"/>
<path d="M366.10 249.17L366.95 251.34L369.27 251.47L367.47 252.94L368.06 255.19L366.10 253.94L364.14 255.19L364.73 252.94L362.93 251.47L365.25 251.34Z" fill="#fff" stroke="#a010d0" stroke-width="0.9"/>
<line x1="378.7" y1="252.5" x2="384.6" y2="252.5" stroke="#1a40ff" stroke-width="1.3"/>
<line x1="393" y1="252.5" x2="395.6" y2="252.5" stroke="#1a40ff" stroke-width="1.3"/>
<path d="M388.80 249.17L389.65 251.34L391.97 251.47L390.17 252.94L390.76 255.19L388.80 253.94L386.84 255.19L387.43 252.94L385.63 251.47L387.95 251.34Z" fill="#fff" stroke="#1a40ff" stroke-width="0.9"/>
<text x="403.5" y="255.1" font-size="8">sample-1 with deformation</text>
<line x1="356.5" y1="262.4" x2="362" y2="262.4" stroke="#a010d0" stroke-width="1.3"/>
<line x1="370.2" y1="262.4" x2="373.2" y2="262.4" stroke="#a010d0" stroke-width="1.3"/>
<path d="M366.10 258.89L366.97 261.20L369.44 261.32L367.51 262.86L368.16 265.24L366.10 263.88L364.04 265.24L364.69 262.86L362.76 261.32L365.23 261.20Z" fill="#a010d0" stroke="#a010d0" stroke-width="0.5"/>
<line x1="378.7" y1="262.4" x2="384.6" y2="262.4" stroke="#1a40ff" stroke-width="1.3"/>
<line x1="393" y1="262.4" x2="395.6" y2="262.4" stroke="#1a40ff" stroke-width="1.3"/>
<path d="M388.80 258.89L389.67 261.20L392.14 261.32L390.21 262.86L390.86 265.24L388.80 263.88L386.74 265.24L387.39 262.86L385.46 261.32L387.93 261.20Z" fill="#1a40ff" stroke="#1a40ff" stroke-width="0.5"/>
<text x="403.5" y="265" font-size="8">sample-2 with deformation</text>
<line x1="356.5" y1="272.4" x2="362" y2="272.4" stroke="#a010d0" stroke-width="1.3"/>
<line x1="370.2" y1="272.4" x2="373.2" y2="272.4" stroke="#a010d0" stroke-width="1.3"/>
<circle cx="366.1" cy="272.4" r="2.6" fill="#fff" stroke="#a010d0" stroke-width="1"/>
<line x1="378.7" y1="272.4" x2="384.6" y2="272.4" stroke="#1a40ff" stroke-width="1.3"/>
<line x1="393" y1="272.4" x2="395.6" y2="272.4" stroke="#1a40ff" stroke-width="1.3"/>
<circle cx="388.8" cy="272.4" r="2.6" fill="#fff" stroke="#1a40ff" stroke-width="1"/>
<text x="403.5" y="275" font-size="8">sample-3 without deformation</text>
<line x1="356.5" y1="282.3" x2="362" y2="282.3" stroke="#a010d0" stroke-width="1.3"/>
<line x1="370.2" y1="282.3" x2="373.2" y2="282.3" stroke="#a010d0" stroke-width="1.3"/>
<circle cx="366.1" cy="282.3" r="3" fill="#a010d0"/>
<line x1="378.7" y1="282.3" x2="384.6" y2="282.3" stroke="#1a40ff" stroke-width="1.3"/>
<line x1="393" y1="282.3" x2="395.6" y2="282.3" stroke="#1a40ff" stroke-width="1.3"/>
<circle cx="388.8" cy="282.3" r="3" fill="#1a40ff"/>
<text x="403.5" y="284.9" font-size="8">sample-4 without deformation</text>
<line x1="344.5" y1="242.3" x2="567.2" y2="242.3" stroke="#000" stroke-width="1.3"/>
<line x1="344.5" y1="421.1" x2="567.2" y2="421.1" stroke="#000" stroke-width="1.5"/>
<line x1="344.5" y1="241.7" x2="344.5" y2="421.8" stroke="#a010d0" stroke-width="1.6"/>
<line x1="567.2" y1="241.7" x2="567.2" y2="421.8" stroke="#1a40ff" stroke-width="1.6"/>
<line x1="344.5" y1="421.1" x2="348" y2="421.1" stroke="#a010d0" stroke-width="1"/>
<text x="340.5" y="424.8" font-size="10.8" text-anchor="end" fill="#a010d0">0</text>
<line x1="344.5" y1="385.3" x2="348" y2="385.3" stroke="#a010d0" stroke-width="1"/>
<text x="340.5" y="389" font-size="10.8" text-anchor="end" fill="#a010d0">8</text>
<line x1="344.5" y1="349.6" x2="348" y2="349.6" stroke="#a010d0" stroke-width="1"/>
<text x="340.5" y="353.3" font-size="10.8" text-anchor="end" fill="#a010d0">16</text>
<line x1="344.5" y1="313.8" x2="348" y2="313.8" stroke="#a010d0" stroke-width="1"/>
<text x="340.5" y="317.5" font-size="10.8" text-anchor="end" fill="#a010d0">24</text>
<line x1="344.5" y1="278.1" x2="348" y2="278.1" stroke="#a010d0" stroke-width="1"/>
<text x="340.5" y="281.8" font-size="10.8" text-anchor="end" fill="#a010d0">32</text>
<line x1="344.5" y1="242.3" x2="348" y2="242.3" stroke="#a010d0" stroke-width="1"/>
<text x="340.5" y="246" font-size="10.8" text-anchor="end" fill="#a010d0">40</text>
<line x1="344.5" y1="403.2" x2="346.5" y2="403.2" stroke="#a010d0" stroke-width="0.8"/>
<line x1="344.5" y1="367.5" x2="346.5" y2="367.5" stroke="#a010d0" stroke-width="0.8"/>
<line x1="344.5" y1="331.7" x2="346.5" y2="331.7" stroke="#a010d0" stroke-width="0.8"/>
<line x1="344.5" y1="295.9" x2="346.5" y2="295.9" stroke="#a010d0" stroke-width="0.8"/>
<line x1="344.5" y1="260.2" x2="346.5" y2="260.2" stroke="#a010d0" stroke-width="0.8"/>
<line x1="567.2" y1="421.1" x2="563.7" y2="421.1" stroke="#1a40ff" stroke-width="1"/>
<text x="571.5" y="424.8" font-size="10.8" fill="#1a40ff">0</text>
<line x1="567.2" y1="398.7" x2="563.7" y2="398.7" stroke="#1a40ff" stroke-width="1"/>
<text x="571.5" y="402.4" font-size="10.8" fill="#1a40ff">8</text>
<line x1="567.2" y1="376.4" x2="563.7" y2="376.4" stroke="#1a40ff" stroke-width="1"/>
<text x="571.5" y="380.1" font-size="10.8" fill="#1a40ff">16</text>
<line x1="567.2" y1="354" x2="563.7" y2="354" stroke="#1a40ff" stroke-width="1"/>
<text x="571.5" y="357.7" font-size="10.8" fill="#1a40ff">24</text>
<line x1="567.2" y1="331.7" x2="563.7" y2="331.7" stroke="#1a40ff" stroke-width="1"/>
<text x="571.5" y="335.4" font-size="10.8" fill="#1a40ff">32</text>
<line x1="567.2" y1="309.3" x2="563.7" y2="309.3" stroke="#1a40ff" stroke-width="1"/>
<text x="571.5" y="313" font-size="10.8" fill="#1a40ff">40</text>
<line x1="567.2" y1="287" x2="563.7" y2="287" stroke="#1a40ff" stroke-width="1"/>
<text x="571.5" y="290.7" font-size="10.8" fill="#1a40ff">48</text>
<line x1="567.2" y1="264.6" x2="563.7" y2="264.6" stroke="#1a40ff" stroke-width="1"/>
<text x="571.5" y="268.3" font-size="10.8" fill="#1a40ff">56</text>
<line x1="567.2" y1="242.3" x2="563.7" y2="242.3" stroke="#1a40ff" stroke-width="1"/>
<text x="571.5" y="246" font-size="10.8" fill="#1a40ff">64</text>
<line x1="567.2" y1="409.9" x2="565.2" y2="409.9" stroke="#1a40ff" stroke-width="0.8"/>
<line x1="567.2" y1="387.6" x2="565.2" y2="387.6" stroke="#1a40ff" stroke-width="0.8"/>
<line x1="567.2" y1="365.2" x2="565.2" y2="365.2" stroke="#1a40ff" stroke-width="0.8"/>
<line x1="567.2" y1="342.9" x2="565.2" y2="342.9" stroke="#1a40ff" stroke-width="0.8"/>
<line x1="567.2" y1="320.5" x2="565.2" y2="320.5" stroke="#1a40ff" stroke-width="0.8"/>
<line x1="567.2" y1="298.2" x2="565.2" y2="298.2" stroke="#1a40ff" stroke-width="0.8"/>
<line x1="567.2" y1="275.8" x2="565.2" y2="275.8" stroke="#1a40ff" stroke-width="0.8"/>
<line x1="567.2" y1="253.5" x2="565.2" y2="253.5" stroke="#1a40ff" stroke-width="0.8"/>
<line x1="348.5" y1="421.1" x2="348.5" y2="417.6" stroke="#000" stroke-width="1"/>
<text x="348.5" y="435" font-size="10.8" text-anchor="middle">0.1</text>
<line x1="361.7" y1="421.1" x2="361.7" y2="419.1" stroke="#000" stroke-width="0.7"/>
<line x1="369.4" y1="421.1" x2="369.4" y2="419.1" stroke="#000" stroke-width="0.7"/>
<line x1="374.9" y1="421.1" x2="374.9" y2="419.1" stroke="#000" stroke-width="0.7"/>
<line x1="379.1" y1="421.1" x2="379.1" y2="419.1" stroke="#000" stroke-width="0.7"/>
<line x1="382.6" y1="421.1" x2="382.6" y2="419.1" stroke="#000" stroke-width="0.7"/>
<line x1="385.6" y1="421.1" x2="385.6" y2="419.1" stroke="#000" stroke-width="0.7"/>
<line x1="388.1" y1="421.1" x2="388.1" y2="419.1" stroke="#000" stroke-width="0.7"/>
<line x1="390.3" y1="421.1" x2="390.3" y2="419.1" stroke="#000" stroke-width="0.7"/>
<line x1="392.4" y1="421.1" x2="392.4" y2="417.6" stroke="#000" stroke-width="1"/>
<text x="392.4" y="435" font-size="10.8" text-anchor="middle">1</text>
<line x1="405.6" y1="421.1" x2="405.6" y2="419.1" stroke="#000" stroke-width="0.7"/>
<line x1="413.3" y1="421.1" x2="413.3" y2="419.1" stroke="#000" stroke-width="0.7"/>
<line x1="418.8" y1="421.1" x2="418.8" y2="419.1" stroke="#000" stroke-width="0.7"/>
<line x1="423" y1="421.1" x2="423" y2="419.1" stroke="#000" stroke-width="0.7"/>
<line x1="426.5" y1="421.1" x2="426.5" y2="419.1" stroke="#000" stroke-width="0.7"/>
<line x1="429.4" y1="421.1" x2="429.4" y2="419.1" stroke="#000" stroke-width="0.7"/>
<line x1="432" y1="421.1" x2="432" y2="419.1" stroke="#000" stroke-width="0.7"/>
<line x1="434.2" y1="421.1" x2="434.2" y2="419.1" stroke="#000" stroke-width="0.7"/>
<line x1="436.2" y1="421.1" x2="436.2" y2="417.6" stroke="#000" stroke-width="1"/>
<text x="436.2" y="435" font-size="10.8" text-anchor="middle">10</text>
<line x1="449.4" y1="421.1" x2="449.4" y2="419.1" stroke="#000" stroke-width="0.7"/>
<line x1="457.1" y1="421.1" x2="457.1" y2="419.1" stroke="#000" stroke-width="0.7"/>
<line x1="462.6" y1="421.1" x2="462.6" y2="419.1" stroke="#000" stroke-width="0.7"/>
<line x1="466.8" y1="421.1" x2="466.8" y2="419.1" stroke="#000" stroke-width="0.7"/>
<line x1="470.3" y1="421.1" x2="470.3" y2="419.1" stroke="#000" stroke-width="0.7"/>
<line x1="473.3" y1="421.1" x2="473.3" y2="419.1" stroke="#000" stroke-width="0.7"/>
<line x1="475.8" y1="421.1" x2="475.8" y2="419.1" stroke="#000" stroke-width="0.7"/>
<line x1="478" y1="421.1" x2="478" y2="419.1" stroke="#000" stroke-width="0.7"/>
<line x1="480.1" y1="421.1" x2="480.1" y2="417.6" stroke="#000" stroke-width="1"/>
<text x="480.1" y="435" font-size="10.8" text-anchor="middle">100</text>
<line x1="493.3" y1="421.1" x2="493.3" y2="419.1" stroke="#000" stroke-width="0.7"/>
<line x1="501" y1="421.1" x2="501" y2="419.1" stroke="#000" stroke-width="0.7"/>
<line x1="506.5" y1="421.1" x2="506.5" y2="419.1" stroke="#000" stroke-width="0.7"/>
<line x1="510.7" y1="421.1" x2="510.7" y2="419.1" stroke="#000" stroke-width="0.7"/>
<line x1="514.2" y1="421.1" x2="514.2" y2="419.1" stroke="#000" stroke-width="0.7"/>
<line x1="517.1" y1="421.1" x2="517.1" y2="419.1" stroke="#000" stroke-width="0.7"/>
<line x1="519.7" y1="421.1" x2="519.7" y2="419.1" stroke="#000" stroke-width="0.7"/>
<line x1="521.9" y1="421.1" x2="521.9" y2="419.1" stroke="#000" stroke-width="0.7"/>
<line x1="523.9" y1="421.1" x2="523.9" y2="417.6" stroke="#000" stroke-width="1"/>
<text x="523.9" y="435" font-size="10.8" text-anchor="middle">1000</text>
<line x1="537.1" y1="421.1" x2="537.1" y2="419.1" stroke="#000" stroke-width="0.7"/>
<line x1="544.8" y1="421.1" x2="544.8" y2="419.1" stroke="#000" stroke-width="0.7"/>
<line x1="550.3" y1="421.1" x2="550.3" y2="419.1" stroke="#000" stroke-width="0.7"/>
<line x1="554.5" y1="421.1" x2="554.5" y2="419.1" stroke="#000" stroke-width="0.7"/>
<line x1="558" y1="421.1" x2="558" y2="419.1" stroke="#000" stroke-width="0.7"/>
<line x1="561" y1="421.1" x2="561" y2="419.1" stroke="#000" stroke-width="0.7"/>
<line x1="563.5" y1="421.1" x2="563.5" y2="419.1" stroke="#000" stroke-width="0.7"/>
<line x1="565.7" y1="421.1" x2="565.7" y2="419.1" stroke="#000" stroke-width="0.7"/>
<line x1="567.2" y1="421.1" x2="567.2" y2="417.6" stroke="#000" stroke-width="1"/>
<text x="568" y="435" font-size="10.8" text-anchor="middle">10000</text>
<text x="321" y="331.5" font-size="15" text-anchor="middle" fill="#a010d0" transform="rotate(-90 321 331.5)">Resistivity (μΩ m)</text>
<text x="596.8" y="333.8" font-size="13.1" text-anchor="middle" fill="#1a40ff" transform="rotate(-90 596.8 333.8)">Power factor (μW cm<tspan font-size="10.5" dy="-5">-1</tspan><tspan dy="5"> K</tspan><tspan font-size="10.5" dy="-5">-2</tspan><tspan dy="5">)</tspan></text>
<text x="456" y="454" font-size="15.6" text-anchor="middle">Time (h)</text>
<text x="308.2" y="247.9" font-size="24.4" font-family="Liberation Sans" stroke="#000" stroke-width="0.5">D</text>
</g>
<g id="pE">
<defs>
<clipPath id="clE"><rect x="36" y="474.5" width="257" height="229.7"/></clipPath>
<linearGradient id="gE" x1="36" x2="293" y1="0" y2="0" gradientUnits="userSpaceOnUse"><stop offset="0" stop-color="#7c7c7c"/><stop offset="0.2" stop-color="#7e7e7e"/><stop offset="0.38" stop-color="#707070"/><stop offset="0.55" stop-color="#646464"/><stop offset="0.72" stop-color="#4e4e4e"/><stop offset="0.86" stop-color="#303030"/><stop offset="1" stop-color="#1c1c1c"/></linearGradient>
<filter id="texE" x="0" y="0" width="1" height="1" color-interpolation-filters="sRGB"><feTurbulence type="fractalNoise" baseFrequency="0.022 0.018" numOctaves="2" seed="11"/><feColorMatrix type="matrix" values="1 0 0 0 0 1 0 0 0 0 1 0 0 0 0 0 0 0 0 1" result="a"/><feTurbulence type="fractalNoise" baseFrequency="0.1 0.085" numOctaves="3" seed="4"/><feColorMatrix type="matrix" values="1 0 0 0 0 1 0 0 0 0 1 0 0 0 0 0 0 0 0 1" result="b"/><feComposite in="a" in2="b" operator="arithmetic" k1="0" k2="0.22" k3="0.6" k4="0.05" result="g"/><feBlend in="g" in2="SourceGraphic" mode="overlay"/></filter>
<filter id="blE" x="-0.5" y="-0.5" width="2" height="2"><feGaussianBlur stdDeviation="7"/></filter>
<filter id="blE2" x="-0.5" y="-0.5" width="2" height="2"><feGaussianBlur stdDeviation="2.2"/></filter>
<filter id="blE3" x="-0.5" y="-0.5" width="2" height="2"><feGaussianBlur stdDeviation="1"/></filter>
<pattern id="frE" width="1.9" height="6" patternUnits="userSpaceOnUse" patternTransform="rotate(31)"><rect width="1.9" height="6" fill="#5c5c5c"/><rect width="0.85" height="6" fill="#8c8c8c"/></pattern>
<filter id="texH" x="0" y="0" width="1" height="1" color-interpolation-filters="sRGB"><feTurbulence type="fractalNoise" baseFrequency="0.5" numOctaves="2" seed="5" result="t"/><feColorMatrix in="t" type="matrix" values="0.3 0 0 0 0.35 0.3 0 0 0 0.35 0.3 0 0 0 0.35 0 0 0 0 1" result="g"/><feBlend in="g" in2="SourceGraphic" mode="overlay"/></filter>
</defs>
<g clip-path="url(#clE)">
<g filter="url(#texE)">
<rect x="36" y="474.5" width="257" height="229.7" fill="url(#gE)"/>
<radialGradient id="rE0"><stop offset="0" stop-color="#848484" stop-opacity="0.4"/><stop offset="0.45" stop-color="#848484" stop-opacity="0.29"/><stop offset="1" stop-color="#848484" stop-opacity="0"/></radialGradient><ellipse cx="60" cy="540" rx="30" ry="85" fill="url(#rE0)"/>
<radialGradient id="rE1"><stop offset="0" stop-color="#7e7e7e" stop-opacity="0.4"/><stop offset="0.45" stop-color="#7e7e7e" stop-opacity="0.29"/><stop offset="1" stop-color="#7e7e7e" stop-opacity="0"/></radialGradient><ellipse cx="120" cy="600" rx="50" ry="65" fill="url(#rE1)"/>
<radialGradient id="rE2"><stop offset="0" stop-color="#4a4a4a" stop-opacity="0.8"/><stop offset="0.45" stop-color="#4a4a4a" stop-opacity="0.58"/><stop offset="1" stop-color="#4a4a4a" stop-opacity="0"/></radialGradient><ellipse cx="160" cy="505" rx="62" ry="48" fill="url(#rE2)"/>
<radialGradient id="rE3"><stop offset="0" stop-color="#2c2c2c" stop-opacity="0.7"/><stop offset="0.45" stop-color="#2c2c2c" stop-opacity="0.50"/><stop offset="1" stop-color="#2c2c2c" stop-opacity="0"/></radialGradient><ellipse cx="185" cy="485" rx="30" ry="18" fill="url(#rE3)"/>
<radialGradient id="rE4"><stop offset="0" stop-color="#2a2a2a" stop-opacity="0.85"/><stop offset="0.45" stop-color="#2a2a2a" stop-opacity="0.61"/><stop offset="1" stop-color="#2a2a2a" stop-opacity="0"/></radialGradient><ellipse cx="232" cy="640" rx="70" ry="80" fill="url(#rE4)"/>
<radialGradient id="rE5"><stop offset="0" stop-color="#050505" stop-opacity="0.95"/><stop offset="0.45" stop-color="#050505" stop-opacity="0.68"/><stop offset="1" stop-color="#050505" stop-opacity="0"/></radialGradient><ellipse cx="264" cy="628" rx="30" ry="95" fill="url(#rE5)"/>
<radialGradient id="rE6"><stop offset="0" stop-color="#3a3a3a" stop-opacity="0.7"/><stop offset="0.45" stop-color="#3a3a3a" stop-opacity="0.50"/><stop offset="1" stop-color="#3a3a3a" stop-opacity="0"/></radialGradient><ellipse cx="215" cy="588" rx="48" ry="40" fill="url(#rE6)"/>
<radialGradient id="rE7"><stop offset="0" stop-color="#6c6c6c" stop-opacity="0.5"/><stop offset="0.45" stop-color="#6c6c6c" stop-opacity="0.36"/><stop offset="1" stop-color="#6c6c6c" stop-opacity="0"/></radialGradient><ellipse cx="140" cy="682" rx="60" ry="28" fill="url(#rE7)"/>
<radialGradient id="rE8"><stop offset="0" stop-color="#7c7c7c" stop-opacity="0.5"/><stop offset="0.45" stop-color="#7c7c7c" stop-opacity="0.36"/><stop offset="1" stop-color="#7c7c7c" stop-opacity="0"/></radialGradient><ellipse cx="95" cy="668" rx="34" ry="36" fill="url(#rE8)"/>
<radialGradient id="rE9"><stop offset="0" stop-color="#787878" stop-opacity="0.45"/><stop offset="0.45" stop-color="#787878" stop-opacity="0.32"/><stop offset="1" stop-color="#787878" stop-opacity="0"/></radialGradient><ellipse cx="170" cy="655" rx="40" ry="28" fill="url(#rE9)"/>
<radialGradient id="rE10"><stop offset="0" stop-color="#080808" stop-opacity="0.8"/><stop offset="0.45" stop-color="#080808" stop-opacity="0.58"/><stop offset="1" stop-color="#080808" stop-opacity="0"/></radialGradient><ellipse cx="262" cy="680" rx="26" ry="40" fill="url(#rE10)"/>
<radialGradient id="rE11"><stop offset="0" stop-color="#101010" stop-opacity="0.7"/><stop offset="0.45" stop-color="#101010" stop-opacity="0.50"/><stop offset="1" stop-color="#101010" stop-opacity="0"/></radialGradient><ellipse cx="258" cy="585" rx="22" ry="30" fill="url(#rE11)"/>
<radialGradient id="rE12"><stop offset="0" stop-color="#2e2e2e" stop-opacity="0.5"/><stop offset="0.45" stop-color="#2e2e2e" stop-opacity="0.36"/><stop offset="1" stop-color="#2e2e2e" stop-opacity="0"/></radialGradient><ellipse cx="205" cy="655" rx="85" ry="75" fill="url(#rE12)"/>
<radialGradient id="rE13"><stop offset="0" stop-color="#4a4a4a" stop-opacity="0.35"/><stop offset="0.45" stop-color="#4a4a4a" stop-opacity="0.25"/><stop offset="1" stop-color="#4a4a4a" stop-opacity="0"/></radialGradient><ellipse cx="180" cy="600" rx="50" ry="40" fill="url(#rE13)"/>
</g>
<path d="M35.5 474L40 474L40 520L41 555L44 578L50 600L56 620L62 640L49 640L44 622L39.5 600L37 578L35.5 570Z" fill="#131313" filter="url(#blE3)"/>
<path d="M35 570L36.5 580L39 600L43.5 622L48 640L35 640Z" fill="#eeeeee"/>
<path d="M271 556L273 570L277 590L278.5 605L277 618L280 635L284 652L287 668L290 684L293.5 700L294 556Z" fill="#e9e9e9"/>
<path d="M271 556L273 570L277 590L278.5 605L277 618L280 635L284 652L287 668L290 684L293.5 700" fill="none" stroke="#fff" stroke-width="3" filter="url(#blE3)"/>
<path d="M289 556L294 556L294 704L291 704Z" fill="#c4c4c4" filter="url(#blE2)"/>
</g>
<clipPath id="clE2"><rect x="204.3" y="474.5" width="88.7" height="86"/></clipPath>
<g clip-path="url(#clE2)"><g filter="url(#texH)"><rect x="204.3" y="474.5" width="88.7" height="86" fill="url(#frE)"/>
</g>
<path d="M220.5 546C220.5 543 220.9 538.2 222 534C223.1 529.8 224.8 525.2 227 521C229.2 516.8 232.2 511.9 235 508.5C237.8 505.1 240.8 502.6 244 500.5C247.2 498.4 250.7 496.9 254 496C257.3 495.1 261.1 494.6 264 494.8C266.9 495.1 269.8 496 271.5 497.5C273.2 499 274.2 501.6 274.5 504C274.8 506.4 274.2 509.2 273 512C271.8 514.8 269.5 518.2 267.5 521C265.5 523.8 263.1 526.2 261 529C258.9 531.8 256.9 535 255 538C253.1 541 251.5 544.5 249.5 547C247.5 549.5 245.4 551.5 243 553C240.6 554.5 237.7 555.9 235 556.3C232.3 556.7 229.2 556.2 227 555.5C224.8 554.8 223.1 553.6 222 552C220.9 550.4 220.5 549 220.5 546Z" fill="#c0b860" fill-opacity="0.5" stroke="#c07050" stroke-width="0.5" stroke-dasharray="0.8 0.8"/>
</g>
<line x1="204.3" y1="474.5" x2="204.3" y2="561" stroke="#fff" stroke-width="1.2"/>
<line x1="203.7" y1="560.5" x2="293" y2="560.5" stroke="#fff" stroke-width="1.2"/>
<text x="223.8" y="490.8" font-size="10.2" fill="#f0e000">d<tspan font-size="5.8" dy="2.2">113</tspan><tspan dy="-2.2"> = 2.1 Å</tspan></text>
<line x1="232.2" y1="488.6" x2="234.8" y2="488.6" stroke="#f0e000" stroke-width="0.6"/>
<line x1="229.4" y1="488.6" x2="231.6" y2="488.6" stroke="#f0e000" stroke-width="0.6"/>
<text x="246" y="544.6" font-size="15" fill="#fff">10 nm</text>
<rect x="240.5" y="549.2" width="48.8" height="2.6" fill="#fff"/>
<rect x="36" y="638" width="69" height="66.2" fill="#141414"/>
<g fill="#fff">
<circle cx="69.2" cy="670.8" r="6.4" opacity="0.45" filter="url(#blE3)"/><circle cx="69.2" cy="670.8" r="3.7"/>
<circle cx="72.5" cy="652" r="4.8" opacity="0.45" filter="url(#blE3)"/><circle cx="72.5" cy="652" r="2.6"/>
<circle cx="98.2" cy="654.5" r="4" opacity="0.45" filter="url(#blE3)"/><circle cx="98.2" cy="654.5" r="2"/>
<circle cx="94.5" cy="673.5" r="4" opacity="0.45" filter="url(#blE3)"/><circle cx="94.5" cy="673.5" r="2"/>
<circle cx="46.8" cy="648.8" r="3.2" opacity="0.45" filter="url(#blE3)"/><circle cx="46.8" cy="648.8" r="1.4"/>
<circle cx="43.8" cy="668" r="3" opacity="0.45" filter="url(#blE3)"/><circle cx="43.8" cy="668" r="1.3"/>
<circle cx="40" cy="687" r="2.9" opacity="0.45" filter="url(#blE3)"/><circle cx="40" cy="687" r="1.2"/>
<circle cx="65.5" cy="690" r="3.6" opacity="0.45" filter="url(#blE3)"/><circle cx="65.5" cy="690" r="1.7"/>
<circle cx="91.2" cy="693" r="3.1" opacity="0.45" filter="url(#blE3)"/><circle cx="91.2" cy="693" r="1.4"/>
</g>
<circle cx="72.5" cy="652" r="4.4" fill="none" stroke="#f0e000" stroke-width="0.8"/>
<circle cx="98.2" cy="654.5" r="4.4" fill="none" stroke="#f0e000" stroke-width="0.8"/>
<circle cx="94.5" cy="673.5" r="4.4" fill="none" stroke="#f0e000" stroke-width="0.8"/>
<text x="42.5" y="662.2" font-size="11.3" fill="#f0e000">(011)</text>
<line x1="52.8" y1="652.4" x2="57.2" y2="652.4" stroke="#f0e000" stroke-width="1"/>
<text x="79.5" y="650.4" font-size="11.3" fill="#f0e000">(113)</text>
<line x1="89.6" y1="640.3" x2="94" y2="640.3" stroke="#f0e000" stroke-width="1"/>
<text x="77" y="687.2" font-size="11.4" fill="#f0e000">(102)</text>
<line x1="36" y1="638" x2="105.5" y2="638" stroke="#fff" stroke-width="1.2"/>
<line x1="105" y1="638" x2="105" y2="704.2" stroke="#fff" stroke-width="1.2"/>
<rect x="196.3" y="693" width="96.7" height="11.3" fill="#fff"/>
<rect x="199.3" y="697" width="52.5" height="4.3" fill="#000"/>
<text x="255.5" y="703.3" font-size="11.5">500 nm</text>
<text x="3.6" y="486.3" font-size="24.4" font-family="Liberation Sans" stroke="#000" stroke-width="0.5">E</text>
</g>
<g id="pF">
<defs>
<pattern id="hF" width="2" height="2" patternUnits="userSpaceOnUse"><rect width="2" height="2" fill="#3ba2ff"/><rect width="1" height="1" fill="#2582f4"/><rect x="1" y="1" width="1" height="1" fill="#2582f4"/></pattern>
<linearGradient id="gFb" x1="0" x2="0" y1="0" y2="1"><stop offset="0" stop-color="#cf38f5"/><stop offset="0.25" stop-color="#a52cc4"/><stop offset="0.5" stop-color="#701e86"/><stop offset="0.75" stop-color="#381043"/><stop offset="1" stop-color="#050206"/></linearGradient>
<linearGradient id="gRul" x1="0" x2="0" y1="0" y2="1"><stop offset="0" stop-color="#bdbdbd"/><stop offset="0.5" stop-color="#d6d6d6"/><stop offset="1" stop-color="#b4b4b4"/></linearGradient>
<clipPath id="clF"><rect x="380.8" y="498.3" width="59.7" height="50.5"/></clipPath>
</defs>
<rect x="501.3" y="588.6" width="6.1" height="83.4" fill="url(#hF)" stroke="#0a30ff" stroke-width="1.1"/>
<rect x="507.5" y="565.8" width="6.1" height="106.2" fill="url(#hF)" stroke="#0a30ff" stroke-width="1.1"/>
<rect x="513.6" y="527.9" width="6.1" height="144.1" fill="url(#hF)" stroke="#0a30ff" stroke-width="1.1"/>
<rect x="519.7" y="543.1" width="6.1" height="128.9" fill="url(#hF)" stroke="#0a30ff" stroke-width="1.1"/>
<rect x="525.9" y="558.3" width="6.1" height="113.7" fill="url(#hF)" stroke="#0a30ff" stroke-width="1.1"/>
<rect x="532" y="527.9" width="6.1" height="144.1" fill="url(#hF)" stroke="#0a30ff" stroke-width="1.1"/>
<rect x="538.1" y="603.8" width="6.1" height="68.2" fill="url(#hF)" stroke="#0a30ff" stroke-width="1.1"/>
<rect x="544.3" y="611.3" width="6.1" height="60.7" fill="url(#hF)" stroke="#0a30ff" stroke-width="1.1"/>
<rect x="550.4" y="618.9" width="6.1" height="53.1" fill="url(#hF)" stroke="#0a30ff" stroke-width="1.1"/>
<rect x="556.6" y="664.4" width="6.1" height="7.6" fill="url(#hF)" stroke="#0a30ff" stroke-width="1.1"/>
<path d="M478 671.6L479.8 671.3L481.7 671L483.5 670.4L485.4 669.7L487.2 668.7L489.1 667.2L490.9 665.3L492.7 662.8L494.6 659.5L496.4 655.4L498.3 650.3L500.1 644.2L501.9 637L503.8 628.6L505.6 619.1L507.5 608.8L509.3 597.7L511.1 586.2L513 574.6L514.8 563.4L516.7 553.1L518.5 544L520.4 536.7L522.2 531.4L524 528.5L525.9 528.1L527.7 530.2L529.6 534.7L531.4 541.4L533.2 549.9L535.1 559.9L536.9 570.8L538.8 582.3L540.6 593.9L542.4 605.1L544.3 615.8L546.1 625.5L548 634.3L549.8 641.9L551.7 648.4L553.5 653.8L555.3 658.3L557.2 661.8L559 664.5L560.9 666.6L562.7 668.2L564.5 669.4L566.4 670.2L568.2 670.8L570.1 671.2L571.9 671.5" fill="none" stroke="#f01818" stroke-width="2.4" stroke-dasharray="6 3.2"/>
<rect x="341.8" y="490" width="245.7" height="182" fill="none" stroke="#111" stroke-width="1.4"/>
<line x1="341.8" y1="672" x2="341.8" y2="668.5" stroke="#000" stroke-width="1"/>
<text x="341.8" y="685.2" font-size="11.4" text-anchor="middle">60</text>
<line x1="366.3" y1="672" x2="366.3" y2="668.5" stroke="#000" stroke-width="1"/>
<text x="366.3" y="685.2" font-size="11.4" text-anchor="middle">80</text>
<line x1="390.9" y1="672" x2="390.9" y2="668.5" stroke="#000" stroke-width="1"/>
<text x="390.9" y="685.2" font-size="11.4" text-anchor="middle">100</text>
<line x1="415.4" y1="672" x2="415.4" y2="668.5" stroke="#000" stroke-width="1"/>
<text x="415.4" y="685.2" font-size="11.4" text-anchor="middle">120</text>
<line x1="439.9" y1="672" x2="439.9" y2="668.5" stroke="#000" stroke-width="1"/>
<text x="439.9" y="685.2" font-size="11.4" text-anchor="middle">140</text>
<line x1="464.5" y1="672" x2="464.5" y2="668.5" stroke="#000" stroke-width="1"/>
<text x="464.5" y="685.2" font-size="11.4" text-anchor="middle">160</text>
<line x1="489.1" y1="672" x2="489.1" y2="668.5" stroke="#000" stroke-width="1"/>
<text x="489.1" y="685.2" font-size="11.4" text-anchor="middle">180</text>
<line x1="513.6" y1="672" x2="513.6" y2="668.5" stroke="#000" stroke-width="1"/>
<text x="513.6" y="685.2" font-size="11.4" text-anchor="middle">200</text>
<line x1="538.1" y1="672" x2="538.1" y2="668.5" stroke="#000" stroke-width="1"/>
<text x="538.1" y="685.2" font-size="11.4" text-anchor="middle">220</text>
<line x1="562.7" y1="672" x2="562.7" y2="668.5" stroke="#000" stroke-width="1"/>
<text x="562.7" y="685.2" font-size="11.4" text-anchor="middle">240</text>
<line x1="587.2" y1="672" x2="587.2" y2="668.5" stroke="#000" stroke-width="1"/>
<text x="587.2" y="685.2" font-size="11.4" text-anchor="middle">260</text>
<line x1="354" y1="672" x2="354" y2="670" stroke="#000" stroke-width="0.8"/>
<line x1="378.6" y1="672" x2="378.6" y2="670" stroke="#000" stroke-width="0.8"/>
<line x1="403.1" y1="672" x2="403.1" y2="670" stroke="#000" stroke-width="0.8"/>
<line x1="427.7" y1="672" x2="427.7" y2="670" stroke="#000" stroke-width="0.8"/>
<line x1="452.2" y1="672" x2="452.2" y2="670" stroke="#000" stroke-width="0.8"/>
<line x1="476.8" y1="672" x2="476.8" y2="670" stroke="#000" stroke-width="0.8"/>
<line x1="501.3" y1="672" x2="501.3" y2="670" stroke="#000" stroke-width="0.8"/>
<line x1="525.9" y1="672" x2="525.9" y2="670" stroke="#000" stroke-width="0.8"/>
<line x1="550.4" y1="672" x2="550.4" y2="670" stroke="#000" stroke-width="0.8"/>
<line x1="575" y1="672" x2="575" y2="670" stroke="#000" stroke-width="0.8"/>
<line x1="341.8" y1="672" x2="345.3" y2="672" stroke="#000" stroke-width="1"/>
<text x="338.8" y="675.8" font-size="11.4" text-anchor="end">0</text>
<line x1="341.8" y1="641.7" x2="345.3" y2="641.7" stroke="#000" stroke-width="1"/>
<text x="338.8" y="645.5" font-size="11.4" text-anchor="end">4</text>
<line x1="341.8" y1="611.3" x2="345.3" y2="611.3" stroke="#000" stroke-width="1"/>
<text x="338.8" y="615.1" font-size="11.4" text-anchor="end">8</text>
<line x1="341.8" y1="581" x2="345.3" y2="581" stroke="#000" stroke-width="1"/>
<text x="338.8" y="584.8" font-size="11.4" text-anchor="end">12</text>
<line x1="341.8" y1="550.7" x2="345.3" y2="550.7" stroke="#000" stroke-width="1"/>
<text x="338.8" y="554.5" font-size="11.4" text-anchor="end">16</text>
<line x1="341.8" y1="520.3" x2="345.3" y2="520.3" stroke="#000" stroke-width="1"/>
<text x="338.8" y="524.1" font-size="11.4" text-anchor="end">20</text>
<line x1="341.8" y1="490" x2="345.3" y2="490" stroke="#000" stroke-width="1"/>
<text x="338.8" y="493.8" font-size="11.4" text-anchor="end">24</text>
<line x1="341.8" y1="656.8" x2="343.8" y2="656.8" stroke="#000" stroke-width="0.8"/>
<line x1="341.8" y1="626.5" x2="343.8" y2="626.5" stroke="#000" stroke-width="0.8"/>
<line x1="341.8" y1="596.2" x2="343.8" y2="596.2" stroke="#000" stroke-width="0.8"/>
<line x1="341.8" y1="565.8" x2="343.8" y2="565.8" stroke="#000" stroke-width="0.8"/>
<line x1="341.8" y1="535.5" x2="343.8" y2="535.5" stroke="#000" stroke-width="0.8"/>
<line x1="341.8" y1="505.2" x2="343.8" y2="505.2" stroke="#000" stroke-width="0.8"/>
<text x="322.3" y="581" font-size="16" text-anchor="middle" transform="rotate(-90 322.3 581)">Count</text>
<text x="458.5" y="702.5" font-size="15.1" text-anchor="middle">|Seebeck| (μV K<tspan font-size="10.5" dy="-5.2">-1</tspan><tspan dy="5.2">)</tspan></text>
<text x="444.5" y="514.8" font-size="11.8" fill="#f01818">Seebeck uniformity: 94.6%</text>
<text x="540.3" y="558.3" font-size="8.6" fill="#f01818">~<tspan font-style="italic">e</tspan></text>
<text x="568.8" y="550.6" font-size="6.6" text-anchor="middle" fill="#f01818">(|<tspan font-style="italic">S</tspan>|−209.5)<tspan font-size="4.6" dy="-2">2</tspan></text>
<line x1="552.6" y1="552.2" x2="585" y2="552.2" stroke="#f01818" stroke-width="0.7"/>
<text x="549" y="554.2" font-size="5" fill="#f01818">−</text>
<text x="568.8" y="558.2" font-size="6.6" text-anchor="middle" fill="#f01818">2×11.3<tspan font-size="4.6" dy="-2">2</tspan></text>
<line x1="540" y1="590" x2="562.6" y2="574.7" stroke="#f01818" stroke-width="0.8"/>
<path d="M564.2 573.6L561.4 577.4L559.4 574.4Z" fill="#f01818"/>
<g clip-path="url(#clF)">
<rect x="380.8" y="498.3" width="59.7" height="50.5" fill="#1c1c1c"/>
<path d="M380.8 517L400 517L400 549L380.8 549Z" fill="#807e76"/>
<path d="M380.8 517L386 517L392 549L380.8 549Z" fill="#6a6962"/>
<rect x="380.8" y="498.3" width="59.7" height="20.5" fill="url(#gRul)"/>
<rect x="399" y="498.3" width="41.5" height="1.6" fill="#222"/>
<rect x="380.8" y="498.3" width="2" height="50.5" fill="#999" opacity="0.5"/>
<line x1="400" y1="512.5" x2="400" y2="516.5" stroke="#444" stroke-width="0.5"/>
<line x1="400" y1="501.5" x2="400" y2="503" stroke="#666" stroke-width="0.4"/>
<line x1="402.4" y1="512.5" x2="402.4" y2="515" stroke="#444" stroke-width="0.5"/>
<line x1="402.4" y1="501.5" x2="402.4" y2="503" stroke="#666" stroke-width="0.4"/>
<line x1="404.8" y1="512.5" x2="404.8" y2="515" stroke="#444" stroke-width="0.5"/>
<line x1="404.8" y1="501.5" x2="404.8" y2="503" stroke="#666" stroke-width="0.4"/>
<line x1="407.2" y1="512.5" x2="407.2" y2="515" stroke="#444" stroke-width="0.5"/>
<line x1="407.2" y1="501.5" x2="407.2" y2="503" stroke="#666" stroke-width="0.4"/>
<line x1="409.6" y1="512.5" x2="409.6" y2="515" stroke="#444" stroke-width="0.5"/>
<line x1="409.6" y1="501.5" x2="409.6" y2="503" stroke="#666" stroke-width="0.4"/>
<line x1="412" y1="512.5" x2="412" y2="516.5" stroke="#444" stroke-width="0.5"/>
<line x1="412" y1="501.5" x2="412" y2="503" stroke="#666" stroke-width="0.4"/>
<line x1="414.4" y1="512.5" x2="414.4" y2="515" stroke="#444" stroke-width="0.5"/>
<line x1="414.4" y1="501.5" x2="414.4" y2="503" stroke="#666" stroke-width="0.4"/>
<line x1="416.8" y1="512.5" x2="416.8" y2="515" stroke="#444" stroke-width="0.5"/>
<line x1="416.8" y1="501.5" x2="416.8" y2="503" stroke="#666" stroke-width="0.4"/>
<line x1="419.2" y1="512.5" x2="419.2" y2="515" stroke="#444" stroke-width="0.5"/>
<line x1="419.2" y1="501.5" x2="419.2" y2="503" stroke="#666" stroke-width="0.4"/>
<line x1="421.6" y1="512.5" x2="421.6" y2="515" stroke="#444" stroke-width="0.5"/>
<line x1="421.6" y1="501.5" x2="421.6" y2="503" stroke="#666" stroke-width="0.4"/>
<line x1="424" y1="512.5" x2="424" y2="516.5" stroke="#444" stroke-width="0.5"/>
<line x1="424" y1="501.5" x2="424" y2="503" stroke="#666" stroke-width="0.4"/>
<line x1="426.4" y1="512.5" x2="426.4" y2="515" stroke="#444" stroke-width="0.5"/>
<line x1="426.4" y1="501.5" x2="426.4" y2="503" stroke="#666" stroke-width="0.4"/>
<line x1="428.8" y1="512.5" x2="428.8" y2="515" stroke="#444" stroke-width="0.5"/>
<line x1="428.8" y1="501.5" x2="428.8" y2="503" stroke="#666" stroke-width="0.4"/>
<line x1="431.2" y1="512.5" x2="431.2" y2="515" stroke="#444" stroke-width="0.5"/>
<line x1="431.2" y1="501.5" x2="431.2" y2="503" stroke="#666" stroke-width="0.4"/>
<line x1="433.6" y1="512.5" x2="433.6" y2="515" stroke="#444" stroke-width="0.5"/>
<line x1="433.6" y1="501.5" x2="433.6" y2="503" stroke="#666" stroke-width="0.4"/>
<line x1="436" y1="512.5" x2="436" y2="516.5" stroke="#444" stroke-width="0.5"/>
<line x1="436" y1="501.5" x2="436" y2="503" stroke="#666" stroke-width="0.4"/>
<line x1="438.4" y1="512.5" x2="438.4" y2="515" stroke="#444" stroke-width="0.5"/>
<line x1="438.4" y1="501.5" x2="438.4" y2="503" stroke="#666" stroke-width="0.4"/>
<text x="400" y="510.5" font-size="3.6" text-anchor="middle" font-weight="normal" fill="#333" font-family="Liberation Sans">0</text>
<text x="412" y="510.5" font-size="3.6" text-anchor="middle" font-weight="normal" fill="#333" font-family="Liberation Sans">10</text>
<text x="424" y="510.5" font-size="3.6" text-anchor="middle" font-weight="normal" fill="#333" font-family="Liberation Sans">20</text>
<text x="436" y="510.5" font-size="3.6" text-anchor="middle" font-weight="normal" fill="#333" font-family="Liberation Sans">30</text>
<rect x="398" y="518.2" width="42.5" height="1.2" fill="#111"/>
<circle cx="412.5" cy="531.8" r="11.8" fill="#a39c92" stroke="#fff" stroke-width="0.8" stroke-dasharray="1.8 1.2"/>
<path d="M404 526A12 12 0 0 1 420 524L412 536Z" fill="#b3aca2" opacity="0.6"/>
</g>
<path d="M381 526.3C368 531 363.5 547 375.4 560.6" fill="none" stroke="#111" stroke-width="1.1"/>
<path d="M378.6 564L371.9 560.6L377 556.6Z" fill="#111"/>
<rect x="365.5" y="564.5" width="90" height="86" fill="#cd34ee"/>
<rect x="388.00" y="564.50" width="7.65" height="7.32" fill="#c630e6"/><rect x="395.50" y="564.50" width="7.65" height="7.32" fill="#c02cdf"/><rect x="403.00" y="564.50" width="7.65" height="7.32" fill="#d237f4"/><rect x="410.50" y="564.50" width="7.65" height="7.32" fill="#bd2bdb"/><rect x="425.50" y="564.50" width="7.65" height="7.32" fill="#c831e8"/><rect x="380.50" y="571.67" width="7.65" height="7.32" fill="#bc2adb"/><rect x="395.50" y="571.67" width="7.65" height="7.32" fill="#bb2ada"/><rect x="410.50" y="571.67" width="7.65" height="7.32" fill="#bd2bdb"/><rect x="418.00" y="571.67" width="7.65" height="7.32" fill="#bd2bdc"/><rect x="433.00" y="571.67" width="7.65" height="7.32" fill="#d93afc"/><rect x="373.00" y="578.83" width="7.65" height="7.32" fill="#bf2cdd"/><rect x="380.50" y="578.83" width="7.65" height="7.32" fill="#c22ee2"/><rect x="388.00" y="578.83" width="7.65" height="7.32" fill="#d136f3"/><rect x="395.50" y="578.83" width="7.65" height="7.32" fill="#dd3dff"/><rect x="418.00" y="578.83" width="7.65" height="7.32" fill="#de3dff"/><rect x="425.50" y="578.83" width="7.65" height="7.32" fill="#bc2ada"/><rect x="433.00" y="578.83" width="7.65" height="7.32" fill="#da3bfd"/><rect x="440.50" y="578.83" width="7.65" height="7.32" fill="#c52fe4"/><rect x="365.50" y="586.00" width="7.65" height="7.32" fill="#bf2cde"/><rect x="373.00" y="586.00" width="7.65" height="7.32" fill="#be2cdd"/><rect x="380.50" y="586.00" width="7.65" height="7.32" fill="#c530e5"/><rect x="388.00" y="586.00" width="7.65" height="7.32" fill="#d83afb"/><rect x="395.50" y="586.00" width="7.65" height="7.32" fill="#c12de0"/><rect x="410.50" y="586.00" width="7.65" height="7.32" fill="#d236f3"/><rect x="418.00" y="586.00" width="7.65" height="7.32" fill="#c831e8"/><rect x="433.00" y="586.00" width="7.65" height="7.32" fill="#bc2adb"/><rect x="440.50" y="586.00" width="7.65" height="7.32" fill="#bc2adb"/><rect x="448.00" y="586.00" width="7.50" height="7.32" fill="#c22de1"/><rect x="365.50" y="593.17" width="7.65" height="7.32" fill="#d337f5"/><rect x="380.50" y="593.17" width="7.65" height="7.32" fill="#c630e6"/><rect x="403.00" y="593.17" width="7.65" height="7.32" fill="#c52fe5"/><rect x="410.50" y="593.17" width="7.65" height="7.32" fill="#d73afa"/><rect x="418.00" y="593.17" width="7.65" height="7.32" fill="#d438f6"/><rect x="425.50" y="593.17" width="7.65" height="7.32" fill="#c32ee3"/><rect x="448.00" y="593.17" width="7.50" height="7.32" fill="#da3bfe"/><rect x="365.50" y="600.33" width="7.65" height="7.32" fill="#d538f7"/><rect x="373.00" y="600.33" width="7.65" height="7.32" fill="#c52fe4"/><rect x="380.50" y="600.33" width="7.65" height="7.32" fill="#de3dff"/><rect x="388.00" y="600.33" width="7.65" height="7.32" fill="#be2cdd"/><rect x="403.00" y="600.33" width="7.65" height="7.32" fill="#d639f9"/><rect x="410.50" y="600.33" width="7.65" height="7.32" fill="#c02cdf"/><rect x="425.50" y="600.33" width="7.65" height="7.32" fill="#bb2ada"/><rect x="433.00" y="600.33" width="7.65" height="7.32" fill="#d337f5"/><rect x="440.50" y="600.33" width="7.65" height="7.32" fill="#d639f9"/><rect x="365.50" y="607.50" width="7.65" height="7.32" fill="#da3bfe"/><rect x="373.00" y="607.50" width="7.65" height="7.32" fill="#c630e6"/><rect x="380.50" y="607.50" width="7.65" height="7.32" fill="#d438f6"/><rect x="410.50" y="607.50" width="7.65" height="7.32" fill="#d93bfc"/><rect x="418.00" y="607.50" width="7.65" height="7.32" fill="#dd3dff"/><rect x="433.00" y="607.50" width="7.65" height="7.32" fill="#d337f5"/><rect x="440.50" y="607.50" width="7.65" height="7.32" fill="#bc2adb"/><rect x="448.00" y="607.50" width="7.50" height="7.32" fill="#d438f6"/><rect x="365.50" y="614.67" width="7.65" height="7.32" fill="#d237f4"/><rect x="373.00" y="614.67" width="7.65" height="7.32" fill="#df3eff"/><rect x="380.50" y="614.67" width="7.65" height="7.32" fill="#d83afb"/><rect x="388.00" y="614.67" width="7.65" height="7.32" fill="#c52fe4"/><rect x="403.00" y="614.67" width="7.65" height="7.32" fill="#d337f5"/><rect x="410.50" y="614.67" width="7.65" height="7.32" fill="#bb2ad9"/><rect x="425.50" y="614.67" width="7.65" height="7.32" fill="#c02ddf"/><rect x="433.00" y="614.67" width="7.65" height="7.32" fill="#be2cdd"/><rect x="440.50" y="614.67" width="7.65" height="7.32" fill="#bc2adb"/><rect x="448.00" y="614.67" width="7.50" height="7.32" fill="#d639f9"/><rect x="365.50" y="621.83" width="7.65" height="7.32" fill="#bf2cde"/><rect x="373.00" y="621.83" width="7.65" height="7.32" fill="#c32ee3"/><rect x="388.00" y="621.83" width="7.65" height="7.32" fill="#da3bfd"/><rect x="395.50" y="621.83" width="7.65" height="7.32" fill="#bd2bdc"/><rect x="418.00" y="621.83" width="7.65" height="7.32" fill="#db3bfe"/><rect x="425.50" y="621.83" width="7.65" height="7.32" fill="#d83afb"/><rect x="433.00" y="621.83" width="7.65" height="7.32" fill="#da3bfd"/><rect x="440.50" y="621.83" width="7.65" height="7.32" fill="#c42fe4"/><rect x="373.00" y="629.00" width="7.65" height="7.32" fill="#c731e7"/><rect x="380.50" y="629.00" width="7.65" height="7.32" fill="#db3bfe"/><rect x="388.00" y="629.00" width="7.65" height="7.32" fill="#dd3dff"/><rect x="395.50" y="629.00" width="7.65" height="7.32" fill="#c02cdf"/><rect x="403.00" y="629.00" width="7.65" height="7.32" fill="#c12de0"/><rect x="410.50" y="629.00" width="7.65" height="7.32" fill="#c32ee2"/><rect x="418.00" y="629.00" width="7.65" height="7.32" fill="#c32ee2"/><rect x="440.50" y="629.00" width="7.65" height="7.32" fill="#c42fe3"/><rect x="380.50" y="636.17" width="7.65" height="7.32" fill="#ba29d8"/><rect x="395.50" y="636.17" width="7.65" height="7.32" fill="#c831e8"/><rect x="410.50" y="636.17" width="7.65" height="7.32" fill="#dd3dff"/><rect x="418.00" y="636.17" width="7.65" height="7.32" fill="#d437f6"/><rect x="388.00" y="643.33" width="7.65" height="7.17" fill="#d337f5"/><rect x="395.50" y="643.33" width="7.65" height="7.17" fill="#bc2ada"/><rect x="403.00" y="643.33" width="7.65" height="7.17" fill="#db3cff"/><rect x="410.50" y="643.33" width="7.65" height="7.17" fill="#d739f9"/><rect x="418.00" y="643.33" width="7.65" height="7.17" fill="#da3bfe"/><rect x="425.50" y="643.33" width="7.65" height="7.17" fill="#d73afa"/><rect x="365.50" y="564.50" width="8.10" height="7.77" fill="#000"/><rect x="372.40" y="564.50" width="8.70" height="7.77" fill="#000"/><rect x="379.90" y="564.50" width="8.70" height="7.77" fill="#000"/><rect x="432.40" y="564.50" width="8.70" height="7.77" fill="#000"/><rect x="439.90" y="564.50" width="8.70" height="7.77" fill="#000"/><rect x="447.40" y="564.50" width="8.10" height="7.77" fill="#000"/><rect x="365.50" y="571.07" width="8.10" height="8.37" fill="#000"/><rect x="372.40" y="571.07" width="8.70" height="8.37" fill="#000"/><rect x="439.90" y="571.07" width="8.70" height="8.37" fill="#000"/><rect x="447.40" y="571.07" width="8.10" height="8.37" fill="#000"/><rect x="365.50" y="578.23" width="8.10" height="8.37" fill="#000"/><rect x="447.40" y="578.23" width="8.10" height="8.37" fill="#000"/><rect x="365.50" y="628.40" width="8.10" height="8.37" fill="#000"/><rect x="447.40" y="628.40" width="8.10" height="8.37" fill="#000"/><rect x="365.50" y="635.57" width="8.10" height="8.37" fill="#000"/><rect x="372.40" y="635.57" width="8.70" height="8.37" fill="#000"/><rect x="439.90" y="635.57" width="8.70" height="8.37" fill="#000"/><rect x="447.40" y="635.57" width="8.10" height="8.37" fill="#000"/><rect x="365.50" y="642.73" width="8.10" height="7.77" fill="#000"/><rect x="372.40" y="642.73" width="8.70" height="7.77" fill="#000"/><rect x="379.90" y="642.73" width="8.70" height="7.77" fill="#000"/><rect x="432.40" y="642.73" width="8.70" height="7.77" fill="#000"/><rect x="439.90" y="642.73" width="8.70" height="7.77" fill="#000"/><rect x="447.40" y="642.73" width="8.10" height="7.77" fill="#000"/>
<ellipse cx="410.5" cy="607.5" rx="44.2" ry="42.4" fill="none" stroke="#fff" stroke-width="0.9" stroke-dasharray="2.6 1.6"/>
<text x="363.4" y="587.6" font-size="9.3" text-anchor="end">15</text>
<text x="363.4" y="611.3" font-size="9.3" text-anchor="end">10</text>
<text x="363.4" y="634.9" font-size="9.3" text-anchor="end">5</text>
<text x="350.9" y="602.8" font-size="9.4" text-anchor="middle" transform="rotate(-90 350.9 602.8)"><tspan font-style="italic">y</tspan> (mm)</text>
<text x="389.3" y="655.8" font-size="9.3" text-anchor="middle" transform="rotate(-90 389.3 655.8)">5</text>
<text x="413.1" y="655.8" font-size="9.3" text-anchor="middle" transform="rotate(-90 413.1 655.8)">10</text>
<text x="436.9" y="655.8" font-size="9.3" text-anchor="middle" transform="rotate(-90 436.9 655.8)">15</text>
<text x="415" y="669.4" font-size="9.5" text-anchor="middle"><tspan font-style="italic">x</tspan> (mm)</text>
<rect x="460" y="564.5" width="17.5" height="86.8" fill="#fff"/>
<rect x="460" y="567" width="17.5" height="82.3" fill="url(#gFb)"/>
<rect x="460" y="564.5" width="17.5" height="86.8" fill="none" stroke="#888" stroke-width="0.6"/>
<line x1="477.5" y1="567.5" x2="479.8" y2="567.5" stroke="#000" stroke-width="0.7"/>
<text x="482.5" y="570" font-size="7.4">235</text>
<line x1="477.5" y1="583.7" x2="479.8" y2="583.7" stroke="#000" stroke-width="0.7"/>
<text x="482.5" y="586.2" font-size="7.4">188</text>
<line x1="477.5" y1="600" x2="479.8" y2="600" stroke="#000" stroke-width="0.7"/>
<text x="482.5" y="602.5" font-size="7.4">141</text>
<line x1="477.5" y1="616.2" x2="479.8" y2="616.2" stroke="#000" stroke-width="0.7"/>
<text x="482.5" y="618.7" font-size="7.4">94</text>
<line x1="477.5" y1="632.5" x2="479.8" y2="632.5" stroke="#000" stroke-width="0.7"/>
<text x="482.5" y="635" font-size="7.4">47</text>
<line x1="477.5" y1="648.3" x2="479.8" y2="648.3" stroke="#000" stroke-width="0.7"/>
<text x="482.5" y="650.8" font-size="7.4">0</text>
<text x="449" y="561" font-size="10.6">|<tspan font-style="italic">S</tspan>| (μV K<tspan font-size="7.5" dy="-3.6">-1</tspan><tspan dy="3.6">)</tspan></text>
<text x="312" y="488.4" font-size="24.2" font-family="Liberation Sans" stroke="#000" stroke-width="0.5">F</text>
</g>
</svg>
</body></html>
